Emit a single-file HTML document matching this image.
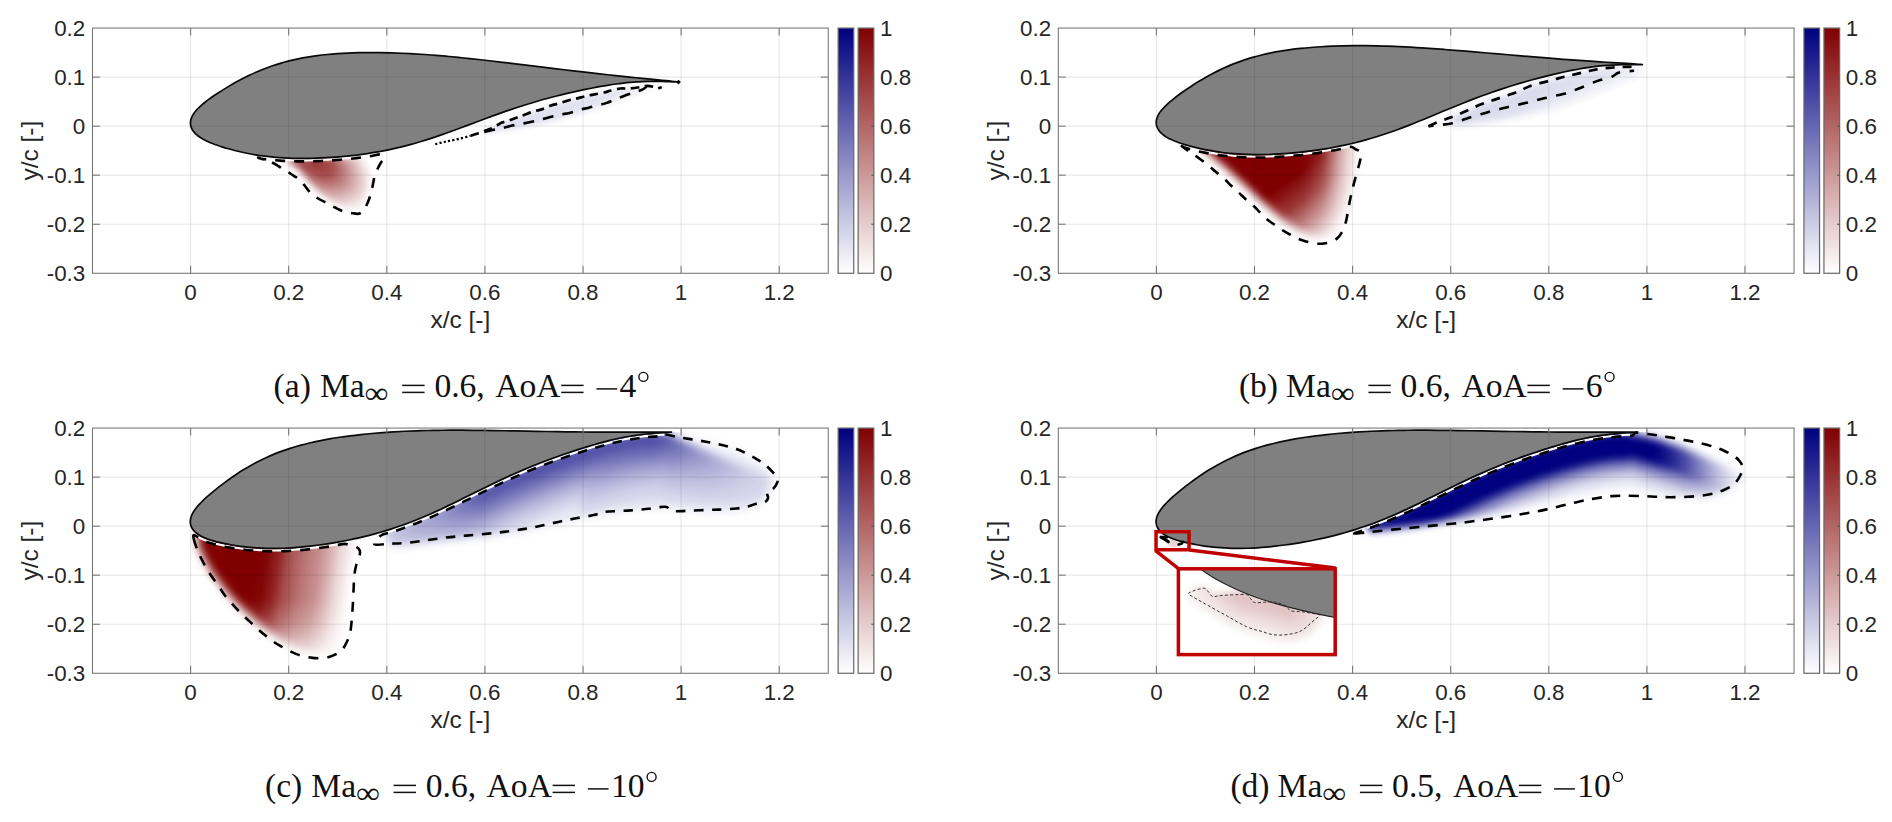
<!DOCTYPE html>
<html><head><meta charset="utf-8"><title>figure</title>
<style>html,body{margin:0;padding:0;background:#fff}svg{display:block}</style>
</head><body>
<svg width="1892" height="822" viewBox="0 0 1892 822">
<defs>
<linearGradient id="cbB" x1="0" y1="1" x2="0" y2="0"><stop offset="0" stop-color="#fff"/><stop offset="1" stop-color="#000080"/></linearGradient>
<linearGradient id="cbR" x1="0" y1="1" x2="0" y2="0"><stop offset="0" stop-color="#fff"/><stop offset="1" stop-color="#800000"/></linearGradient>
<radialGradient id="rg1" gradientUnits="userSpaceOnUse" cx="315" cy="160" r="62" gradientTransform="translate(315 160) rotate(38) scale(1.15 0.66) translate(-315 -160)"><stop offset="0" stop-color="#800000" stop-opacity="0.8"/><stop offset="0.3" stop-color="#800000" stop-opacity="0.68"/><stop offset="0.6" stop-color="#800000" stop-opacity="0.36"/><stop offset="0.85" stop-color="#800000" stop-opacity="0.1"/><stop offset="1" stop-color="#800000" stop-opacity="0"/></radialGradient>
<filter id="bl3" x="-30%" y="-30%" width="160%" height="160%"><feGaussianBlur stdDeviation="3"/></filter>
<mask id="mk2" maskUnits="userSpaceOnUse" x="240" y="140" width="180" height="100"><path d="M286 160C286 162.5 295 167 300 172C305 177 310.33 184.67 316 190C321.67 195.33 328 200.33 334 204C340 207.67 347.33 211 352 212C356.67 213 359.33 212.67 362 210C364.67 207.33 366.33 201.67 368 196C369.67 190.33 370.33 182.33 372 176C373.67 169.67 383.33 161 378 158C372.67 155 353 158.17 340 158C327 157.83 309 156.67 300 157C291 157.33 286 157.5 286 160Z" fill="#fff" filter="url(#bl3)"/></mask>
<linearGradient id="lg4" gradientUnits="userSpaceOnUse" x1="560" y1="100" x2="572" y2="128"><stop offset="0" stop-color="#000080" stop-opacity="0.13"/><stop offset="0.5" stop-color="#000080" stop-opacity="0.11"/><stop offset="1" stop-color="#000080" stop-opacity="0"/></linearGradient>
<filter id="bl6" x="-30%" y="-30%" width="160%" height="160%"><feGaussianBlur stdDeviation="2.5"/></filter>
<mask id="mk5" maskUnits="userSpaceOnUse" x="420" y="70" width="280" height="90"><path d="M484.3 131.1L493.6 127.3L502 122.6L509.6 120.3L518.1 117.1L524 115L534.2 111.2L541.8 109.4L551.1 105.5L558.7 103.5L568.8 100.2L576.4 98.6L585.7 96.1L593.3 94.6L604.3 92.5L610.2 90.8L620.3 88.5L628.8 88.6L639.8 87.2L646.6 85.9L653.3 86.8L656.7 88.4L661.8 87.2L670 90L640 97L600 110L560 120L520 128L490 133Z" fill="#fff" filter="url(#bl6)"/></mask>
<linearGradient id="lg7" gradientUnits="userSpaceOnUse" x1="1250" y1="150" x2="1322" y2="248"><stop offset="0" stop-color="#800000" stop-opacity="1"/><stop offset="0.39" stop-color="#800000" stop-opacity="1"/><stop offset="0.59" stop-color="#800000" stop-opacity="0.78"/><stop offset="0.77" stop-color="#800000" stop-opacity="0.45"/><stop offset="0.91" stop-color="#800000" stop-opacity="0.18"/><stop offset="1" stop-color="#800000" stop-opacity="0.05"/></linearGradient>
<linearGradient id="lg8" gradientUnits="userSpaceOnUse" x1="1303.5" y1="0" x2="1359.5" y2="0"><stop offset="0" stop-color="#fff" stop-opacity="1"/><stop offset="0.35" stop-color="#fff" stop-opacity="0.85"/><stop offset="0.7" stop-color="#fff" stop-opacity="0.3"/><stop offset="1" stop-color="#fff" stop-opacity="0"/></linearGradient>
<filter id="bl10" x="-30%" y="-30%" width="160%" height="160%"><feGaussianBlur stdDeviation="4"/></filter>
<mask id="mk9" maskUnits="userSpaceOnUse" x="1150" y="120" width="260" height="160"><g filter="url(#bl10)"><path d="M1202 144C1197.17 145.83 1206.83 150.92 1211 155C1215.17 159.08 1221.33 163.5 1227 168.5C1232.67 173.5 1239 179.42 1245 185C1251 190.58 1257.33 196.75 1263 202C1268.67 207.25 1273.5 212.08 1279 216.5C1284.5 220.92 1290.17 225.08 1296 228.5C1301.83 231.92 1308.33 235.5 1314 237C1319.67 238.5 1325.67 238.83 1330 237.5C1334.33 236.17 1337.17 233.58 1340 229C1342.83 224.42 1345 217.17 1347 210C1349 202.83 1350.17 194.33 1352 186C1353.83 177.67 1357 167 1358 160C1359 153 1367.67 146.67 1358 144C1348.33 141.33 1319.67 144 1300 144C1280.33 144 1256.33 144 1240 144C1223.67 144 1206.83 142.17 1202 144Z" fill="url(#lg8)"/></g></mask>
<linearGradient id="lg11" gradientUnits="userSpaceOnUse" x1="1540" y1="82" x2="1556" y2="118"><stop offset="0" stop-color="#000080" stop-opacity="0.16"/><stop offset="0.45" stop-color="#000080" stop-opacity="0.12"/><stop offset="1" stop-color="#000080" stop-opacity="0"/></linearGradient>
<filter id="bl13" x="-30%" y="-30%" width="160%" height="160%"><feGaussianBlur stdDeviation="3.5"/></filter>
<mask id="mk12" maskUnits="userSpaceOnUse" x="1400" y="50" width="290" height="110"><path d="M1447.5 118.6L1455 115.8L1463.3 112.3L1471 108.9L1479.1 105.1L1487 102.2L1494.9 99.6L1504 96.5L1513.9 93.3L1522 89.7L1529.7 86.2L1538 83.7L1547.1 81.4L1556 79L1564.5 76.7L1573 74.7L1581.9 72.7L1590 70.8L1599.3 68.8L1609 67.9L1618.3 67.2L1626 66.9L1634.1 66.7L1646 70L1640 84L1610 96L1570 108L1530 116L1490 122L1455 126Z" fill="#fff" filter="url(#bl13)"/></mask>
<linearGradient id="lg14" gradientUnits="userSpaceOnUse" x1="258" y1="545" x2="358" y2="560"><stop offset="0" stop-color="#800000" stop-opacity="1"/><stop offset="0.1" stop-color="#800000" stop-opacity="0.98"/><stop offset="0.22" stop-color="#800000" stop-opacity="0.86"/><stop offset="0.31" stop-color="#800000" stop-opacity="0.71"/><stop offset="0.46" stop-color="#800000" stop-opacity="0.56"/><stop offset="0.62" stop-color="#800000" stop-opacity="0.44"/><stop offset="0.72" stop-color="#800000" stop-opacity="0.31"/><stop offset="0.82" stop-color="#800000" stop-opacity="0.16"/><stop offset="0.92" stop-color="#800000" stop-opacity="0.05"/><stop offset="1" stop-color="#800000" stop-opacity="0"/></linearGradient>
<linearGradient id="lg15" gradientUnits="userSpaceOnUse" x1="0" y1="600" x2="0" y2="662"><stop offset="0" stop-color="#fff" stop-opacity="1"/><stop offset="0.4" stop-color="#fff" stop-opacity="0.8"/><stop offset="0.75" stop-color="#fff" stop-opacity="0.42"/><stop offset="1" stop-color="#fff" stop-opacity="0.2"/></linearGradient>
<filter id="bl17" x="-30%" y="-30%" width="160%" height="160%"><feGaussianBlur stdDeviation="4.8"/></filter>
<mask id="mk16" maskUnits="userSpaceOnUse" x="160" y="500" width="240" height="180"><g filter="url(#bl17)"><path d="M204 524C198.67 528.33 198.33 536.17 198 541C197.67 545.83 200 548.42 202 553C204 557.58 206.83 563.33 210 568.5C213.17 573.67 217 578.83 221 584C225 589.17 229.33 594.42 234 599.5C238.67 604.58 243.83 609.75 249 614.5C254.17 619.25 259.58 623.75 265 628C270.42 632.25 276 636.67 281.5 640C287 643.33 292.58 646 298 648C303.42 650 308.67 651.42 314 652C319.33 652.58 325.17 652.67 330 651.5C334.83 650.33 339.5 648.75 343 645C346.5 641.25 349.17 636.5 351 629C352.83 621.5 353.17 609.5 354 600C354.83 590.5 354.83 580 356 572C357.17 564 360.17 560.67 361 552C361.83 543.33 374.5 526.17 361 520C347.5 513.83 301.83 515.83 280 515C258.17 514.17 242.67 513.5 230 515C217.33 516.5 209.33 519.67 204 524Z" fill="url(#lg15)"/></g></mask>
<linearGradient id="lg18" gradientUnits="userSpaceOnUse" x1="376" y1="0" x2="800" y2="0"><stop offset="0" stop-color="#fff" stop-opacity="0.12"/><stop offset="0.03" stop-color="#fff" stop-opacity="0.3"/><stop offset="0.16" stop-color="#fff" stop-opacity="0.6"/><stop offset="0.25" stop-color="#fff" stop-opacity="0.95"/><stop offset="0.4" stop-color="#fff" stop-opacity="1"/><stop offset="0.66" stop-color="#fff" stop-opacity="1"/><stop offset="0.69" stop-color="#fff" stop-opacity="0.9"/><stop offset="0.72" stop-color="#fff" stop-opacity="0.7"/><stop offset="0.76" stop-color="#fff" stop-opacity="0.52"/><stop offset="0.82" stop-color="#fff" stop-opacity="0.32"/><stop offset="0.87" stop-color="#fff" stop-opacity="0.19"/><stop offset="0.93" stop-color="#fff" stop-opacity="0.11"/><stop offset="1" stop-color="#fff" stop-opacity="0.04"/></linearGradient>
<filter id="bl20" x="-30%" y="-30%" width="160%" height="160%"><feGaussianBlur stdDeviation="4"/></filter>
<mask id="mk19" maskUnits="userSpaceOnUse" x="330" y="400" width="500" height="180"><g filter="url(#bl20)"><path d="M368 547L406 546L446 541L488 537L525 532L560 525L594 518L630 513.5L665 510L710 513L740 511.5L762 505L780 484L772 478L746 468L721.7 458L697.3 447L683 440.5L669.07 433.77L654.81 431.25L642.72 432.4L630.59 434.1L618.45 436.42L606.34 439.27L594.24 442.52L582.15 446.15L570.06 450.03L557.98 454.18L545.9 458.6L533.82 463.28L521.74 468.28L509.65 473.61L497.58 479.2L485.51 485.02L473.46 490.98L461.42 496.98L449.39 502.87L437.38 508.54L425.38 513.89L413.39 518.85L401.41 523.38L389.44 527.44L377.43 531.02Z" fill="url(#lg18)"/></g></mask>
<filter id="bl21" x="-30%" y="-30%" width="160%" height="160%"><feGaussianBlur stdDeviation="3.5"/></filter>
<filter id="bl22" x="-30%" y="-30%" width="160%" height="160%"><feGaussianBlur stdDeviation="6"/></filter>
<linearGradient id="lg23" gradientUnits="userSpaceOnUse" x1="1350" y1="0" x2="1750" y2="0"><stop offset="0" stop-color="#fff" stop-opacity="0.7"/><stop offset="0.04" stop-color="#fff" stop-opacity="1"/><stop offset="0.76" stop-color="#fff" stop-opacity="1"/><stop offset="0.79" stop-color="#fff" stop-opacity="0.92"/><stop offset="0.83" stop-color="#fff" stop-opacity="0.75"/><stop offset="0.86" stop-color="#fff" stop-opacity="0.58"/><stop offset="0.89" stop-color="#fff" stop-opacity="0.4"/><stop offset="0.92" stop-color="#fff" stop-opacity="0.25"/><stop offset="0.95" stop-color="#fff" stop-opacity="0.12"/><stop offset="0.98" stop-color="#fff" stop-opacity="0.04"/><stop offset="1" stop-color="#fff" stop-opacity="0"/></linearGradient>
<filter id="bl25" x="-30%" y="-30%" width="160%" height="160%"><feGaussianBlur stdDeviation="4.5"/></filter>
<mask id="mk24" maskUnits="userSpaceOnUse" x="1300" y="400" width="500" height="180"><g filter="url(#bl25)"><path d="M1356 532.5L1380 530L1420 525.5L1460 520.5L1500 514L1540 506L1580 499.5L1612 497L1645 498.5L1672 500L1706 498L1730 490L1748 478L1750 478L1730 468.5L1706 458L1682 447.5L1657 439L1634.07 433.83L1619.81 431.32L1608.46 432.4L1597.07 433.99L1585.68 436.12L1574.3 438.71L1562.94 441.72L1551.59 445.02L1540.25 448.6L1528.91 452.39L1517.57 456.41L1506.23 460.68L1494.89 465.21L1483.55 470.02L1472.21 475.08L1460.88 480.39L1449.55 485.88L1438.24 491.49L1426.94 497.11L1415.65 502.65L1404.38 507.99L1393.12 513.06L1381.86 517.78L1370.61 522.12L1359.34 526.07Z" fill="url(#lg23)"/></g></mask>
<filter id="bl26" x="-30%" y="-30%" width="160%" height="160%"><feGaussianBlur stdDeviation="2.6"/></filter>
<radialGradient id="rg27" gradientUnits="userSpaceOnUse" cx="1173.5" cy="542.8" r="8"><stop offset="0" stop-color="#800000" stop-opacity="0.2"/><stop offset="0.6" stop-color="#800000" stop-opacity="0.12"/><stop offset="1" stop-color="#800000" stop-opacity="0"/></radialGradient>
<clipPath id="insclip"><rect x="1178.4" y="568.8" width="156.8" height="85.8"/></clipPath>
<linearGradient id="lg28" gradientUnits="userSpaceOnUse" x1="1250" y1="596" x2="1238" y2="640"><stop offset="0" stop-color="#800000" stop-opacity="0.26"/><stop offset="0.25" stop-color="#800000" stop-opacity="0.2"/><stop offset="0.5" stop-color="#800000" stop-opacity="0.12"/><stop offset="0.8" stop-color="#800000" stop-opacity="0.04"/><stop offset="1" stop-color="#800000" stop-opacity="0"/></linearGradient>
<linearGradient id="lg29" gradientUnits="userSpaceOnUse" x1="1186" y1="0" x2="1325" y2="0"><stop offset="0" stop-color="#fff" stop-opacity="0.25"/><stop offset="0.15" stop-color="#fff" stop-opacity="0.55"/><stop offset="0.35" stop-color="#fff" stop-opacity="1"/><stop offset="0.75" stop-color="#fff" stop-opacity="1"/><stop offset="0.9" stop-color="#fff" stop-opacity="0.6"/><stop offset="1" stop-color="#fff" stop-opacity="0.3"/></linearGradient>
<filter id="bl31" x="-30%" y="-30%" width="160%" height="160%"><feGaussianBlur stdDeviation="3"/></filter>
<mask id="mk30" maskUnits="userSpaceOnUse" x="1170" y="560" width="180" height="110"><g filter="url(#bl31)"><path d="M1186 592L1196 586.5L1206 586L1213 593L1247 591.5L1255 599L1275 598.5L1288 603L1292 608L1322 612.5L1322 622L1310 636L1292 645L1270 645L1248 638L1226 626L1204 612L1190 602Z" fill="url(#lg29)"/></g></mask>
<clipPath id="clipa"><rect x="92.5" y="28.07" width="735.75" height="245.2"/></clipPath>
<clipPath id="clipb"><rect x="1058.3" y="28.07" width="735.75" height="245.2"/></clipPath>
<clipPath id="clipc"><rect x="92.5" y="428.07" width="735.75" height="245.2"/></clipPath>
<clipPath id="clipd"><rect x="1058.3" y="428.07" width="735.75" height="245.2"/></clipPath>
</defs>
<rect width="1892" height="822" fill="#fff"/>
<g clip-path="url(#clipa)">
<rect x="240" y="140" width="180" height="100" fill="url(#rg1)" mask="url(#mk2)"/>
<rect x="420" y="70" width="280" height="90" fill="url(#lg4)" mask="url(#mk5)"/>
<path d="M261.75 157.75C262.45 157.84 264.56 158.11 265.97 158.28C267.38 158.45 268.8 158.62 270.21 158.76C271.62 158.91 273.03 159.03 274.45 159.15C275.86 159.28 277.27 159.41 278.68 159.51C280.09 159.61 281.51 159.69 282.92 159.77C284.33 159.85 285.74 159.94 287.15 160.01C288.56 160.07 289.97 160.11 291.38 160.16C292.8 160.2 294.2 160.24 295.61 160.27C297.02 160.3 298.44 160.32 299.85 160.33C301.26 160.34 302.66 160.34 304.07 160.34C305.48 160.34 306.89 160.33 308.3 160.31C309.71 160.29 311.12 160.26 312.53 160.22C313.94 160.19 315.35 160.17 316.76 160.13C318.17 160.08 319.57 160 320.98 159.94C322.39 159.88 323.8 159.83 325.21 159.76C326.62 159.69 328.03 159.59 329.44 159.51C330.84 159.42 332.25 159.33 333.66 159.23C335.06 159.13 336.48 159.03 337.88 158.92C339.29 158.81 340.7 158.68 342.1 158.55C343.51 158.43 344.92 158.32 346.33 158.18C347.74 158.05 349.15 157.88 350.56 157.72C351.97 157.57 353.37 157.42 354.78 157.26C356.19 157.09 357.61 156.92 359.02 156.74C360.42 156.55 361.83 156.36 363.23 156.16C364.64 155.97 366.06 155.8 367.47 155.59C368.88 155.38 370.29 155.13 371.7 154.9C373.11 154.67 374.51 154.45 375.92 154.21C377.33 153.97 378.75 153.72 380.16 153.46C381.57 153.2 383.68 152.78 384.38 152.65" fill="none" stroke="#fff" stroke-width="2.2"/>
<path d="M190.5 124.07C190.43 123.23 190.44 122.38 190.54 121.52C190.63 120.67 190.81 119.81 191.08 118.95C191.34 118.08 191.69 117.21 192.12 116.33C192.56 115.45 193.07 114.57 193.67 113.68C194.27 112.79 194.95 111.89 195.71 110.98C196.48 110.08 197.32 109.16 198.25 108.23C199.18 107.3 200.18 106.36 201.27 105.4C202.35 104.44 203.52 103.47 204.76 102.48C206.01 101.48 207.33 100.47 208.72 99.44C210.12 98.41 211.59 97.35 213.14 96.28C214.69 95.21 216.31 94.11 218.01 93C219.7 91.88 221.47 90.74 223.31 89.6C225.15 88.45 227.06 87.28 229.04 86.11C231.02 84.94 233.07 83.75 235.18 82.57C237.3 81.39 239.49 80.2 241.74 79.03C243.99 77.86 246.31 76.69 248.7 75.54C251.08 74.4 253.53 73.27 256.04 72.17C258.55 71.08 261.13 70 263.77 68.98C266.4 67.95 269.1 66.95 271.86 66C274.62 65.06 277.43 64.15 280.31 63.31C283.18 62.46 286.11 61.65 289.09 60.91C292.07 60.16 295.11 59.47 298.2 58.83C301.28 58.19 304.42 57.61 307.61 57.07C310.79 56.54 314.02 56.07 317.3 55.64C320.57 55.21 323.89 54.84 327.25 54.51C330.6 54.17 334 53.89 337.44 53.65C340.87 53.41 344.34 53.22 347.84 53.06C351.34 52.9 354.87 52.79 358.43 52.7C361.99 52.62 365.58 52.57 369.2 52.56C372.81 52.54 376.45 52.56 380.1 52.61C383.75 52.66 387.43 52.74 391.12 52.85C394.81 52.95 398.52 53.09 402.24 53.25C405.96 53.41 409.7 53.6 413.43 53.81C417.17 54.02 420.92 54.26 424.67 54.52C428.42 54.78 432.18 55.06 435.93 55.36C439.69 55.66 443.44 55.99 447.19 56.33C450.94 56.67 454.69 57.03 458.43 57.4C462.16 57.77 465.9 58.16 469.61 58.55C473.33 58.95 477.04 59.36 480.72 59.77C484.41 60.18 488.08 60.61 491.73 61.03C495.38 61.46 499.01 61.89 502.62 62.32C506.22 62.75 509.8 63.18 513.35 63.61C516.9 64.04 520.43 64.47 523.92 64.9C527.41 65.32 530.87 65.75 534.29 66.16C537.71 66.58 541.1 66.99 544.44 67.4C547.79 67.8 551.1 68.2 554.36 68.59C557.62 68.99 560.85 69.37 564.02 69.75C567.19 70.13 570.33 70.5 573.4 70.86C576.48 71.22 579.51 71.57 582.49 71.92C585.46 72.26 588.39 72.6 591.25 72.93C594.12 73.26 596.93 73.58 599.68 73.88C602.43 74.19 605.13 74.49 607.76 74.78C610.39 75.07 612.97 75.35 615.47 75.62C617.98 75.89 620.42 76.15 622.79 76.4C625.17 76.64 627.48 76.88 629.72 77.11C631.96 77.34 634.13 77.55 636.23 77.76C638.32 77.97 640.35 78.17 642.31 78.36C644.26 78.55 646.14 78.73 647.95 78.9C649.75 79.07 651.49 79.24 653.14 79.39C654.79 79.55 656.37 79.7 657.87 79.84C659.37 79.99 660.79 80.12 662.13 80.25C663.47 80.39 664.73 80.51 665.91 80.63C667.08 80.75 668.18 80.86 669.2 80.97C670.21 81.07 671.15 81.17 672 81.26C672.84 81.36 673.61 81.44 674.29 81.52C674.98 81.59 675.57 81.66 676.09 81.72C676.6 81.78 677.03 81.83 677.37 81.88C677.71 81.92 677.97 81.95 678.14 81.97C678.31 81.99 678.36 81.99 678.4 82C678.36 82 678.31 82 678.14 81.99C677.97 81.99 677.72 81.99 677.38 81.98C677.04 81.97 676.62 81.96 676.11 81.95C675.6 81.93 675 81.91 674.33 81.89C673.65 81.87 672.89 81.84 672.04 81.81C671.2 81.78 670.27 81.75 669.26 81.71C668.25 81.67 667.16 81.63 665.99 81.59C664.82 81.55 663.56 81.51 662.23 81.47C660.9 81.44 659.49 81.4 658 81.37C656.51 81.35 654.95 81.33 653.31 81.33C651.67 81.33 649.95 81.34 648.16 81.37C646.37 81.41 644.51 81.46 642.58 81.54C640.65 81.62 638.65 81.72 636.58 81.86C634.51 81.99 632.37 82.16 630.17 82.36C627.97 82.56 625.7 82.79 623.37 83.06C621.04 83.33 618.64 83.64 616.19 83.98C613.74 84.32 611.22 84.69 608.65 85.1C606.08 85.51 603.45 85.95 600.77 86.43C598.08 86.9 595.34 87.41 592.55 87.96C589.76 88.5 586.91 89.07 584.02 89.67C581.12 90.28 578.18 90.91 575.19 91.58C572.2 92.25 569.16 92.95 566.09 93.68C563.01 94.41 559.88 95.17 556.72 95.98C553.56 96.78 550.36 97.61 547.13 98.49C543.89 99.36 540.62 100.27 537.31 101.23C534.01 102.18 530.67 103.18 527.31 104.21C523.94 105.25 520.55 106.33 517.13 107.44C513.72 108.56 510.27 109.72 506.81 110.92C503.34 112.11 499.86 113.35 496.35 114.61C492.85 115.87 489.32 117.17 485.78 118.47C482.25 119.78 478.69 121.12 475.12 122.46C471.56 123.8 467.98 125.16 464.39 126.49C460.8 127.83 457.2 129.18 453.59 130.49C449.98 131.81 446.37 133.12 442.75 134.38C439.13 135.64 435.5 136.88 431.88 138.07C428.25 139.26 424.62 140.41 421 141.5C417.37 142.59 413.74 143.64 410.12 144.62C406.5 145.6 402.89 146.53 399.28 147.4C395.67 148.26 392.07 149.07 388.48 149.82C384.9 150.57 381.32 151.25 377.76 151.88C374.2 152.52 370.66 153.09 367.14 153.62C363.62 154.14 360.11 154.61 356.64 155.04C353.16 155.47 349.7 155.84 346.28 156.18C342.86 156.52 339.46 156.81 336.09 157.07C332.73 157.32 329.4 157.54 326.1 157.72C322.81 157.9 319.54 158.04 316.32 158.14C313.1 158.25 309.92 158.32 306.78 158.35C303.64 158.38 300.54 158.37 297.49 158.32C294.44 158.28 291.44 158.2 288.48 158.08C285.52 157.95 282.61 157.79 279.76 157.59C276.9 157.4 274.1 157.16 271.35 156.88C268.6 156.61 265.9 156.3 263.27 155.95C260.63 155.61 258.05 155.22 255.53 154.82C253.02 154.41 250.56 153.96 248.16 153.5C245.77 153.04 243.44 152.55 241.18 152.04C238.91 151.53 236.71 151 234.59 150.46C232.46 149.92 230.4 149.37 228.41 148.8C226.43 148.24 224.51 147.66 222.67 147.08C220.83 146.5 219.06 145.91 217.37 145.31C215.68 144.72 214.06 144.12 212.53 143.51C210.99 142.9 209.53 142.28 208.14 141.66C206.76 141.03 205.46 140.4 204.23 139.76C203.01 139.11 201.86 138.46 200.8 137.79C199.74 137.12 198.75 136.43 197.85 135.73C196.95 135.03 196.13 134.32 195.39 133.58C194.65 132.85 193.99 132.1 193.42 131.33C192.84 130.57 192.35 129.79 191.94 128.99C191.54 128.19 191.21 127.38 190.97 126.56C190.73 125.74 190.57 124.91 190.5 124.07Z" fill="#808080" stroke="#0a0a0a" stroke-width="1.7" stroke-linejoin="round"/>
<g stroke="#000" stroke-opacity="0.085" stroke-width="1.2"><line x1="190.6" y1="28.07" x2="190.6" y2="273.27"/><line x1="288.7" y1="28.07" x2="288.7" y2="273.27"/><line x1="386.8" y1="28.07" x2="386.8" y2="273.27"/><line x1="484.9" y1="28.07" x2="484.9" y2="273.27"/><line x1="583" y1="28.07" x2="583" y2="273.27"/><line x1="681.1" y1="28.07" x2="681.1" y2="273.27"/><line x1="779.2" y1="28.07" x2="779.2" y2="273.27"/><line x1="92.5" y1="77.11" x2="828.25" y2="77.11"/><line x1="92.5" y1="126.15" x2="828.25" y2="126.15"/><line x1="92.5" y1="175.19" x2="828.25" y2="175.19"/><line x1="92.5" y1="224.23" x2="828.25" y2="224.23"/></g>
<path d="M258.1 157.6C258.16 157.63 260.45 158.4 262 158.9C263.55 159.4 265.23 159.75 267.4 160.6C269.57 161.45 272.27 162.5 275 164C277.73 165.5 281.13 167.93 283.8 169.6C286.47 171.27 288.45 172.37 291 174C293.55 175.63 296.77 177.4 299.1 179.4C301.43 181.4 302.98 183.62 305 186C307.02 188.38 308.87 191.53 311.2 193.7C313.53 195.87 316.27 197.37 319 199C321.73 200.63 324.93 202.08 327.6 203.5C330.27 204.92 332.45 206.22 335 207.5C337.55 208.78 340.23 210.28 342.9 211.2C345.57 212.12 348.27 212.6 351 213C353.73 213.4 357 214.37 359.3 213.6C361.6 212.83 363.1 211 364.8 208.4C366.5 205.8 368.27 201.4 369.5 198C370.73 194.6 371.43 191.28 372.2 188C372.97 184.72 373.47 180.88 374.1 178.3C374.73 175.72 375.27 174.38 376 172.5C376.73 170.62 377.67 168.67 378.5 167C379.33 165.33 380.15 163.97 381 162.5C381.85 161.03 383.68 159.55 383.6 158.2C383.52 156.85 382.54 154.78 380.5 154.41C378.47 154.04 374.44 155.48 371.39 155.96C368.35 156.45 365.3 156.89 362.25 157.31C359.2 157.72 356.16 158.1 353.11 158.45C350.06 158.79 347.02 159.11 343.97 159.39C340.93 159.68 337.88 159.93 334.84 160.16C331.79 160.38 328.74 160.58 325.7 160.74C322.65 160.9 319.61 161.04 316.56 161.14C313.51 161.23 310.46 161.3 307.42 161.33C304.37 161.36 301.32 161.37 298.27 161.33C295.22 161.29 292.17 161.21 289.11 161.09C286.06 160.97 283.01 160.82 279.95 160.61C276.89 160.4 273.82 160.15 270.77 159.84C267.72 159.53 263.76 159.12 261.64 158.74C259.53 158.37 258.04 157.57 258.1 157.6Z" fill="none" stroke="#000" stroke-width="2.6" stroke-dasharray="10 9" stroke-dashoffset="4" stroke-linecap="butt" stroke-linejoin="round"/>
<path d="M435.2 144.2C436.9 143.78 441.58 142.55 445.4 141.7C449.22 140.85 453.88 140.1 458.1 139.1C462.32 138.1 468.6 136.27 470.7 135.7" fill="none" stroke="#000" stroke-width="2.2" stroke-dasharray="2.2 2.2" stroke-dashoffset="0" stroke-linecap="butt" stroke-linejoin="round"/>
<path d="M470.7 135.7C472.97 134.93 480.48 132.5 484.3 131.1C488.12 129.7 490.65 128.72 493.6 127.3C496.55 125.88 499.33 123.77 502 122.6C504.67 121.43 506.92 121.22 509.6 120.3C512.28 119.38 515.7 117.98 518.1 117.1C520.5 116.22 521.32 115.98 524 115C526.68 114.02 531.23 112.13 534.2 111.2C537.17 110.27 538.98 110.35 541.8 109.4C544.62 108.45 548.28 106.48 551.1 105.5C553.92 104.52 555.75 104.38 558.7 103.5C561.65 102.62 565.85 101.02 568.8 100.2C571.75 99.38 573.58 99.28 576.4 98.6C579.22 97.92 582.88 96.77 585.7 96.1C588.52 95.43 590.2 95.2 593.3 94.6C596.4 94 601.48 93.13 604.3 92.5C607.12 91.87 607.53 91.47 610.2 90.8C612.87 90.13 617.2 88.87 620.3 88.5C623.4 88.13 625.55 88.82 628.8 88.6C632.05 88.38 636.83 87.65 639.8 87.2C642.77 86.75 644.35 85.97 646.6 85.9C648.85 85.83 651.62 86.38 653.3 86.8C654.98 87.22 655.28 88.33 656.7 88.4C658.12 88.47 660.95 87.4 661.8 87.2" fill="none" stroke="#000" stroke-width="2.7" stroke-dasharray="8.5 5.5" stroke-dashoffset="0" stroke-linecap="butt" stroke-linejoin="round"/>
<path d="M484.3 131.9C485.85 131.55 490.37 130.5 493.6 129.8C496.83 129.1 500.6 128.4 503.7 127.7C506.8 127 509.1 126.27 512.2 125.6C515.3 124.93 519.07 124.33 522.3 123.7C525.53 123.07 528.35 122.55 531.6 121.8C534.85 121.05 538.7 119.98 541.8 119.2C544.9 118.42 547.1 117.87 550.2 117.1C553.3 116.33 557.15 115.3 560.4 114.6C563.65 113.9 566.33 113.75 569.7 112.9C573.07 112.05 577.52 110.33 580.6 109.5C583.68 108.67 585.1 108.65 588.2 107.9C591.3 107.15 596.1 105.83 599.2 105C602.3 104.17 603.83 103.97 606.8 102.9C609.77 101.83 614.03 99.8 617 98.6C619.97 97.4 621.65 96.75 624.6 95.7C627.55 94.65 631.75 93.3 634.7 92.3C637.65 91.3 640.32 90.67 642.3 89.7C644.28 88.73 645.88 87.03 646.6 86.5" fill="none" stroke="#000" stroke-width="2.6" stroke-dasharray="11 9" stroke-dashoffset="0" stroke-linecap="butt" stroke-linejoin="round"/>
<path d="M676.2 82.1L678.5 79.8L680.8 82.1L678.5 84.4Z" fill="#000"/>
</g>
<g stroke="#737373" stroke-width="1.05" fill="none"><rect x="92.5" y="28.07" width="735.75" height="245.2"/><line x1="190.6" y1="273.27" x2="190.6" y2="265.87"/><line x1="190.6" y1="28.07" x2="190.6" y2="35.47"/><line x1="288.7" y1="273.27" x2="288.7" y2="265.87"/><line x1="288.7" y1="28.07" x2="288.7" y2="35.47"/><line x1="386.8" y1="273.27" x2="386.8" y2="265.87"/><line x1="386.8" y1="28.07" x2="386.8" y2="35.47"/><line x1="484.9" y1="273.27" x2="484.9" y2="265.87"/><line x1="484.9" y1="28.07" x2="484.9" y2="35.47"/><line x1="583" y1="273.27" x2="583" y2="265.87"/><line x1="583" y1="28.07" x2="583" y2="35.47"/><line x1="681.1" y1="273.27" x2="681.1" y2="265.87"/><line x1="681.1" y1="28.07" x2="681.1" y2="35.47"/><line x1="779.2" y1="273.27" x2="779.2" y2="265.87"/><line x1="779.2" y1="28.07" x2="779.2" y2="35.47"/><line x1="92.5" y1="77.11" x2="99.9" y2="77.11"/><line x1="828.25" y1="77.11" x2="820.85" y2="77.11"/><line x1="92.5" y1="126.15" x2="99.9" y2="126.15"/><line x1="828.25" y1="126.15" x2="820.85" y2="126.15"/><line x1="92.5" y1="175.19" x2="99.9" y2="175.19"/><line x1="828.25" y1="175.19" x2="820.85" y2="175.19"/><line x1="92.5" y1="224.23" x2="99.9" y2="224.23"/><line x1="828.25" y1="224.23" x2="820.85" y2="224.23"/></g>
<g font-family="Liberation Sans, sans-serif" font-size="22.4" fill="#262626"><text x="190.6" y="299.67" text-anchor="middle">0</text><text x="288.7" y="299.67" text-anchor="middle">0.2</text><text x="386.8" y="299.67" text-anchor="middle">0.4</text><text x="484.9" y="299.67" text-anchor="middle">0.6</text><text x="583" y="299.67" text-anchor="middle">0.8</text><text x="681.1" y="299.67" text-anchor="middle">1</text><text x="779.2" y="299.67" text-anchor="middle">1.2</text><text x="85.3" y="35.77" text-anchor="end">0.2</text><text x="85.3" y="84.81" text-anchor="end">0.1</text><text x="85.3" y="133.85" text-anchor="end">0</text><text x="85.3" y="182.89" text-anchor="end">-0.1</text><text x="85.3" y="231.93" text-anchor="end">-0.2</text><text x="85.3" y="280.97" text-anchor="end">-0.3</text></g><g font-family="Liberation Sans, sans-serif" font-size="24.5" fill="#262626"><text x="460.38" y="327.67" text-anchor="middle">x/c [-]</text><text transform="translate(38 150.67) rotate(-90)" text-anchor="middle">y/c [-]</text></g>
<rect x="838.15" y="28.07" width="15.6" height="245.2" fill="url(#cbB)" stroke="#666" stroke-width="1.2"/><rect x="858.15" y="28.07" width="15.7" height="245.2" fill="url(#cbR)" stroke="#666" stroke-width="1.2"/><g stroke="#555" stroke-width="1.2"><line x1="873.85" y1="224.23" x2="871.35" y2="224.23"/><line x1="873.85" y1="175.19" x2="871.35" y2="175.19"/><line x1="873.85" y1="126.15" x2="871.35" y2="126.15"/><line x1="873.85" y1="77.11" x2="871.35" y2="77.11"/></g><g font-family="Liberation Sans, sans-serif" font-size="22.4" fill="#262626"><text x="880.05" y="280.97">0</text><text x="880.05" y="231.93">0.2</text><text x="880.05" y="182.89">0.4</text><text x="880.05" y="133.85">0.6</text><text x="880.05" y="84.81">0.8</text><text x="880.05" y="35.77">1</text></g>
<g font-family="Liberation Serif, serif" font-size="33.6" fill="#111"><text x="273.6" y="397.3">(a)</text><text x="319.9" y="397.3">Ma</text><text transform="translate(364.6 402.5) scale(1.12 1)" font-size="30">∞</text><text x="434.4" y="397.3">0.6,</text><text x="495.2" y="397.3">AoA</text><text x="619.6" y="397.3">4</text></g><g stroke="#111" stroke-width="1.5" fill="none"><line x1="402.2" y1="385.4" x2="424.6" y2="385.4"/><line x1="402.2" y1="392.4" x2="424.6" y2="392.4"/><line x1="561.2" y1="385.4" x2="583.6" y2="385.4"/><line x1="561.2" y1="392.4" x2="583.6" y2="392.4"/><line x1="596.4" y1="388.9" x2="617.2" y2="388.9"/><circle cx="643.4" cy="376.9" r="4.5" stroke-width="1.4"/></g>
<g clip-path="url(#clipb)">
<rect x="1150" y="120" width="260" height="160" fill="url(#lg7)" mask="url(#mk9)"/>
<rect x="1400" y="50" width="290" height="110" fill="url(#lg11)" mask="url(#mk12)"/>
<path d="M1185.46 146.88C1186.44 147.15 1189.38 148.01 1191.35 148.52C1193.32 149.04 1195.3 149.53 1197.27 149.99C1199.24 150.45 1201.21 150.88 1203.18 151.29C1205.15 151.7 1207.12 152.08 1209.09 152.44C1211.06 152.8 1213.03 153.14 1215 153.44C1216.97 153.75 1218.95 154.03 1220.92 154.28C1222.89 154.54 1224.85 154.76 1226.82 154.97C1228.79 155.18 1230.76 155.37 1232.72 155.54C1234.69 155.71 1236.66 155.87 1238.63 155.99C1240.6 156.11 1242.57 156.2 1244.54 156.28C1246.51 156.36 1248.47 156.41 1250.44 156.45C1252.4 156.5 1254.37 156.54 1256.34 156.54C1258.3 156.55 1260.27 156.53 1262.24 156.49C1264.2 156.46 1266.16 156.41 1268.13 156.35C1270.09 156.3 1272.06 156.24 1274.02 156.15C1275.99 156.06 1277.95 155.94 1279.92 155.82C1281.88 155.69 1283.84 155.57 1285.8 155.43C1287.76 155.28 1289.73 155.13 1291.69 154.96C1293.65 154.79 1295.61 154.59 1297.58 154.4C1299.54 154.2 1301.5 154.02 1303.47 153.8C1305.43 153.57 1307.39 153.32 1309.36 153.07C1311.32 152.82 1313.28 152.57 1315.24 152.3C1317.2 152.03 1319.17 151.74 1321.13 151.44C1323.09 151.14 1325.05 150.82 1327.02 150.49C1328.98 150.16 1330.95 149.84 1332.91 149.48C1334.88 149.12 1336.84 148.72 1338.8 148.34C1340.76 147.95 1342.73 147.58 1344.7 147.16C1346.66 146.74 1348.63 146.26 1350.59 145.81C1352.55 145.35 1355.48 144.66 1356.46 144.43" fill="none" stroke="#fff" stroke-width="2.2"/>
<path d="M1156.3 124.07C1156.2 123.23 1156.18 122.38 1156.25 121.52C1156.31 120.67 1156.46 119.8 1156.69 118.93C1156.93 118.05 1157.25 117.17 1157.65 116.28C1158.05 115.39 1158.53 114.49 1159.1 113.57C1159.66 112.66 1160.31 111.74 1161.04 110.81C1161.77 109.87 1162.59 108.93 1163.48 107.96C1164.37 107 1165.34 106.03 1166.39 105.03C1167.44 104.03 1168.58 103.02 1169.78 101.98C1170.99 100.94 1172.27 99.89 1173.63 98.8C1174.99 97.72 1176.43 96.62 1177.93 95.49C1179.44 94.36 1181.02 93.21 1182.68 92.03C1184.33 90.86 1186.06 89.66 1187.85 88.45C1189.65 87.23 1191.52 86 1193.45 84.76C1195.39 83.51 1197.4 82.25 1199.47 81C1201.54 79.74 1203.69 78.48 1205.9 77.23C1208.1 75.98 1210.38 74.72 1212.72 73.49C1215.06 72.27 1217.47 71.05 1219.94 69.86C1222.41 68.68 1224.95 67.51 1227.55 66.39C1230.15 65.27 1232.81 64.18 1235.53 63.13C1238.25 62.09 1241.03 61.08 1243.87 60.13C1246.71 59.18 1249.61 58.27 1252.57 57.42C1255.52 56.57 1258.53 55.77 1261.59 55.02C1264.65 54.27 1267.77 53.57 1270.93 52.93C1274.1 52.28 1277.31 51.69 1280.57 51.15C1283.82 50.6 1287.13 50.11 1290.47 49.66C1293.81 49.21 1297.2 48.81 1300.62 48.44C1304.04 48.08 1307.51 47.76 1311 47.48C1314.49 47.2 1318.02 46.95 1321.57 46.74C1325.13 46.53 1328.71 46.36 1332.32 46.21C1335.93 46.07 1339.57 45.96 1343.22 45.88C1346.88 45.79 1350.56 45.74 1354.25 45.72C1357.94 45.69 1361.65 45.69 1365.37 45.72C1369.1 45.75 1372.83 45.8 1376.58 45.88C1380.32 45.96 1384.08 46.06 1387.83 46.19C1391.59 46.31 1395.36 46.46 1399.12 46.63C1402.88 46.8 1406.65 46.99 1410.41 47.19C1414.16 47.39 1417.92 47.62 1421.67 47.86C1425.42 48.09 1429.16 48.35 1432.89 48.61C1436.62 48.87 1440.34 49.15 1444.04 49.43C1447.73 49.71 1451.42 50.01 1455.08 50.3C1458.74 50.59 1462.39 50.9 1466.01 51.2C1469.62 51.5 1473.22 51.8 1476.78 52.11C1480.35 52.41 1483.88 52.71 1487.39 53.01C1490.89 53.31 1494.36 53.61 1497.8 53.9C1501.23 54.2 1504.63 54.49 1507.99 54.77C1511.35 55.06 1514.67 55.34 1517.94 55.62C1521.22 55.89 1524.45 56.16 1527.64 56.42C1530.82 56.69 1533.97 56.95 1537.05 57.2C1540.14 57.45 1543.18 57.7 1546.17 57.93C1549.15 58.17 1552.09 58.4 1554.97 58.63C1557.84 58.85 1560.67 59.07 1563.43 59.28C1566.19 59.49 1568.89 59.7 1571.53 59.89C1574.17 60.09 1576.75 60.27 1579.27 60.45C1581.78 60.63 1584.23 60.8 1586.61 60.97C1588.99 61.13 1591.31 61.28 1593.56 61.43C1595.8 61.58 1597.98 61.72 1600.08 61.85C1602.19 61.98 1604.22 62.11 1606.18 62.23C1608.14 62.35 1610.03 62.46 1611.84 62.57C1613.65 62.68 1615.39 62.78 1617.04 62.88C1618.7 62.97 1620.28 63.07 1621.79 63.16C1623.29 63.25 1624.71 63.33 1626.06 63.42C1627.4 63.5 1628.66 63.58 1629.85 63.65C1631.03 63.73 1632.13 63.8 1633.15 63.87C1634.17 63.94 1635.1 64.01 1635.96 64.07C1636.81 64.13 1637.58 64.19 1638.26 64.24C1638.95 64.29 1639.55 64.34 1640.06 64.38C1640.58 64.42 1641.01 64.46 1641.35 64.49C1641.69 64.52 1641.95 64.54 1642.12 64.56C1642.3 64.57 1642.34 64.57 1642.38 64.58C1642.34 64.58 1642.3 64.58 1642.13 64.58C1641.96 64.58 1641.7 64.59 1641.36 64.59C1641.02 64.6 1640.6 64.6 1640.09 64.61C1639.58 64.61 1638.99 64.61 1638.31 64.61C1637.63 64.62 1636.87 64.62 1636.02 64.62C1635.18 64.62 1634.25 64.62 1633.24 64.61C1632.23 64.61 1631.14 64.61 1629.96 64.61C1628.79 64.62 1627.54 64.62 1626.2 64.63C1624.87 64.64 1623.46 64.65 1621.97 64.68C1620.49 64.71 1618.92 64.75 1617.28 64.8C1615.64 64.86 1613.93 64.93 1612.14 65.03C1610.36 65.13 1608.5 65.25 1606.57 65.4C1604.64 65.55 1602.65 65.72 1600.58 65.93C1598.52 66.14 1596.39 66.38 1594.2 66.66C1592 66.94 1589.74 67.26 1587.43 67.61C1585.11 67.96 1582.72 68.35 1580.28 68.78C1577.85 69.2 1575.34 69.67 1572.79 70.17C1570.24 70.67 1567.62 71.21 1564.96 71.78C1562.29 72.35 1559.57 72.96 1556.8 73.6C1554.03 74.24 1551.2 74.91 1548.33 75.62C1545.47 76.33 1542.54 77.07 1539.58 77.84C1536.62 78.62 1533.61 79.42 1530.56 80.26C1527.51 81.11 1524.41 81.98 1521.28 82.9C1518.16 83.81 1514.98 84.76 1511.78 85.75C1508.58 86.74 1505.34 87.77 1502.07 88.84C1498.81 89.91 1495.51 91.02 1492.18 92.18C1488.86 93.34 1485.5 94.53 1482.13 95.77C1478.75 97.01 1475.35 98.3 1471.93 99.61C1468.52 100.93 1465.07 102.29 1461.62 103.68C1458.16 105.06 1454.68 106.48 1451.2 107.92C1447.71 109.35 1444.2 110.82 1440.69 112.28C1437.17 113.75 1433.64 115.23 1430.1 116.7C1426.56 118.16 1423.01 119.64 1419.45 121.08C1415.9 122.52 1412.33 123.96 1408.76 125.35C1405.19 126.74 1401.61 128.11 1398.03 129.43C1394.44 130.75 1390.86 132.03 1387.27 133.25C1383.69 134.47 1380.1 135.64 1376.52 136.75C1372.94 137.87 1369.35 138.92 1365.78 139.92C1362.21 140.91 1358.64 141.84 1355.08 142.72C1351.52 143.6 1347.97 144.41 1344.44 145.17C1340.91 145.93 1337.38 146.63 1333.88 147.28C1330.38 147.93 1326.9 148.53 1323.44 149.08C1319.98 149.63 1316.54 150.13 1313.13 150.59C1309.72 151.05 1306.33 151.46 1302.98 151.84C1299.63 152.22 1296.3 152.55 1293.02 152.85C1289.73 153.14 1286.48 153.4 1283.26 153.62C1280.05 153.84 1276.87 154.02 1273.73 154.17C1270.6 154.31 1267.5 154.41 1264.45 154.48C1261.4 154.54 1258.39 154.57 1255.43 154.55C1252.48 154.53 1249.56 154.48 1246.7 154.38C1243.84 154.28 1241.03 154.15 1238.27 153.97C1235.52 153.8 1232.81 153.58 1230.16 153.33C1227.52 153.08 1224.92 152.79 1222.39 152.47C1219.86 152.15 1217.39 151.8 1214.98 151.42C1212.57 151.04 1210.22 150.64 1207.94 150.21C1205.66 149.79 1203.45 149.33 1201.3 148.87C1199.16 148.41 1197.08 147.92 1195.07 147.43C1193.07 146.94 1191.13 146.43 1189.27 145.91C1187.41 145.4 1185.63 144.87 1183.91 144.34C1182.2 143.8 1180.57 143.26 1179.01 142.71C1177.45 142.15 1175.96 141.59 1174.56 141.02C1173.16 140.44 1171.83 139.86 1170.58 139.25C1169.34 138.65 1168.17 138.04 1167.08 137.41C1166 136.78 1164.99 136.13 1164.06 135.46C1163.14 134.79 1162.29 134.11 1161.52 133.4C1160.76 132.7 1160.08 131.97 1159.48 131.23C1158.88 130.48 1158.36 129.72 1157.92 128.94C1157.48 128.15 1157.13 127.35 1156.86 126.54C1156.59 125.73 1156.4 124.9 1156.3 124.07Z" fill="#808080" stroke="#0a0a0a" stroke-width="1.7" stroke-linejoin="round"/>
<g stroke="#000" stroke-opacity="0.085" stroke-width="1.2"><line x1="1156.4" y1="28.07" x2="1156.4" y2="273.27"/><line x1="1254.5" y1="28.07" x2="1254.5" y2="273.27"/><line x1="1352.6" y1="28.07" x2="1352.6" y2="273.27"/><line x1="1450.7" y1="28.07" x2="1450.7" y2="273.27"/><line x1="1548.8" y1="28.07" x2="1548.8" y2="273.27"/><line x1="1646.9" y1="28.07" x2="1646.9" y2="273.27"/><line x1="1745" y1="28.07" x2="1745" y2="273.27"/><line x1="1058.3" y1="77.11" x2="1794.05" y2="77.11"/><line x1="1058.3" y1="126.15" x2="1794.05" y2="126.15"/><line x1="1058.3" y1="175.19" x2="1794.05" y2="175.19"/><line x1="1058.3" y1="224.23" x2="1794.05" y2="224.23"/></g>
<path d="M1181.8 146.2C1182.1 146.56 1185.17 148.75 1187 150C1188.83 151.25 1190.63 152.2 1192.8 153.7C1194.97 155.2 1197.35 157.02 1200 159C1202.65 160.98 1206.03 163.43 1208.7 165.6C1211.37 167.77 1213.37 169.77 1216 172C1218.63 174.23 1222 176.75 1224.5 179C1227 181.25 1228.63 183.25 1231 185.5C1233.37 187.75 1236.2 190.17 1238.7 192.5C1241.2 194.83 1243.37 197.13 1246 199.5C1248.63 201.87 1252.17 204.53 1254.5 206.7C1256.83 208.87 1257.88 210.38 1260 212.5C1262.12 214.62 1264.7 217.32 1267.2 219.4C1269.7 221.48 1272.37 223.15 1275 225C1277.63 226.85 1280.5 228.92 1283 230.5C1285.5 232.08 1287.63 233.18 1290 234.5C1292.37 235.82 1294.53 237.23 1297.2 238.4C1299.87 239.57 1302.83 240.63 1306 241.5C1309.17 242.37 1313.2 243.27 1316.2 243.6C1319.2 243.93 1321.37 243.85 1324 243.5C1326.63 243.15 1329.75 242.42 1332 241.5C1334.25 240.58 1335.92 239.45 1337.5 238C1339.08 236.55 1340.33 234.8 1341.5 232.8C1342.67 230.8 1343.7 228.1 1344.5 226C1345.3 223.9 1345.72 222.7 1346.3 220.2C1346.88 217.7 1347.47 213.9 1348 211C1348.53 208.1 1348.95 205.63 1349.5 202.8C1350.05 199.97 1350.65 196.9 1351.3 194C1351.95 191.1 1352.65 188.32 1353.4 185.4C1354.15 182.48 1355 179.4 1355.8 176.5C1356.6 173.6 1357.5 170.58 1358.2 168C1358.9 165.42 1359.48 163.25 1360 161C1360.52 158.75 1361.38 156.17 1361.3 154.5C1361.22 152.83 1360.47 151.87 1359.5 151C1358.53 150.13 1356.98 150 1355.5 149.3C1354.02 148.6 1353.06 146.88 1350.64 146.82C1348.21 146.76 1344.19 148.27 1340.95 148.93C1337.72 149.59 1334.47 150.2 1331.23 150.78C1327.99 151.36 1324.75 151.89 1321.52 152.39C1318.28 152.89 1315.04 153.35 1311.8 153.78C1308.57 154.2 1305.33 154.59 1302.09 154.95C1298.86 155.3 1295.62 155.62 1292.38 155.91C1289.14 156.19 1285.91 156.45 1282.67 156.66C1279.43 156.87 1276.19 157.06 1272.95 157.19C1269.71 157.33 1266.47 157.43 1263.23 157.49C1259.98 157.54 1256.74 157.55 1253.49 157.51C1250.25 157.47 1247 157.39 1243.75 157.24C1240.5 157.1 1237.25 156.9 1234 156.64C1230.75 156.38 1227.5 156.07 1224.24 155.69C1220.99 155.32 1217.73 154.89 1214.47 154.38C1211.22 153.87 1207.96 153.27 1204.71 152.62C1201.45 151.97 1198.18 151.27 1194.93 150.48C1191.69 149.68 1187.41 148.56 1185.22 147.85C1183.03 147.13 1181.5 145.84 1181.8 146.2Z" fill="none" stroke="#000" stroke-width="2.6" stroke-dasharray="10 9" stroke-dashoffset="2" stroke-linecap="butt" stroke-linejoin="round"/>
<path d="M1428.5 126.2C1429.92 125.58 1433.83 123.77 1437 122.5C1440.17 121.23 1444.5 119.72 1447.5 118.6C1450.5 117.48 1452.37 116.85 1455 115.8C1457.63 114.75 1460.63 113.45 1463.3 112.3C1465.97 111.15 1468.37 110.1 1471 108.9C1473.63 107.7 1476.43 106.22 1479.1 105.1C1481.77 103.98 1484.37 103.12 1487 102.2C1489.63 101.28 1492.07 100.55 1494.9 99.6C1497.73 98.65 1500.83 97.55 1504 96.5C1507.17 95.45 1510.9 94.43 1513.9 93.3C1516.9 92.17 1519.37 90.88 1522 89.7C1524.63 88.52 1527.03 87.2 1529.7 86.2C1532.37 85.2 1535.1 84.5 1538 83.7C1540.9 82.9 1544.1 82.18 1547.1 81.4C1550.1 80.62 1553.1 79.78 1556 79C1558.9 78.22 1561.67 77.42 1564.5 76.7C1567.33 75.98 1570.1 75.37 1573 74.7C1575.9 74.03 1579.07 73.35 1581.9 72.7C1584.73 72.05 1587.1 71.45 1590 70.8C1592.9 70.15 1596.13 69.28 1599.3 68.8C1602.47 68.32 1605.83 68.17 1609 67.9C1612.17 67.63 1615.47 67.37 1618.3 67.2C1621.13 67.03 1623.37 66.98 1626 66.9C1628.63 66.82 1632.75 66.73 1634.1 66.7" fill="none" stroke="#000" stroke-width="2.7" stroke-dasharray="9 8" stroke-dashoffset="0" stroke-linecap="butt" stroke-linejoin="round"/>
<path d="M1428.5 126.2C1430.42 126 1436.05 125.48 1440 125C1443.95 124.52 1448.53 124.1 1452.2 123.3C1455.87 122.5 1458.83 121.25 1462 120.2C1465.17 119.15 1468.03 118 1471.2 117C1474.37 116 1477.83 115.12 1481 114.2C1484.17 113.28 1487.03 112.37 1490.2 111.5C1493.37 110.63 1496.83 109.8 1500 109C1503.17 108.2 1506.2 107.4 1509.2 106.7C1512.2 106 1515.1 105.45 1518 104.8C1520.9 104.15 1523.77 103.5 1526.6 102.8C1529.43 102.1 1532.1 101.35 1535 100.6C1537.9 99.85 1541 99.02 1544 98.3C1547 97.58 1549.83 97 1553 96.3C1556.17 95.6 1560 94.9 1563 94.1C1566 93.3 1568.37 92.43 1571 91.5C1573.63 90.57 1576.13 89.55 1578.8 88.5C1581.47 87.45 1584.1 86.38 1587 85.2C1589.9 84.02 1593.37 82.43 1596.2 81.4C1599.03 80.37 1601.37 79.78 1604 79C1606.63 78.22 1609.62 77.75 1612 76.7C1614.38 75.65 1615.97 73.57 1618.3 72.7C1620.63 71.83 1623.37 71.82 1626 71.5C1628.63 71.18 1632.75 70.92 1634.1 70.8" fill="none" stroke="#000" stroke-width="2.6" stroke-dasharray="10 9.5" stroke-dashoffset="5" stroke-linecap="butt" stroke-linejoin="round"/>
</g>
<g stroke="#737373" stroke-width="1.05" fill="none"><rect x="1058.3" y="28.07" width="735.75" height="245.2"/><line x1="1156.4" y1="273.27" x2="1156.4" y2="265.87"/><line x1="1156.4" y1="28.07" x2="1156.4" y2="35.47"/><line x1="1254.5" y1="273.27" x2="1254.5" y2="265.87"/><line x1="1254.5" y1="28.07" x2="1254.5" y2="35.47"/><line x1="1352.6" y1="273.27" x2="1352.6" y2="265.87"/><line x1="1352.6" y1="28.07" x2="1352.6" y2="35.47"/><line x1="1450.7" y1="273.27" x2="1450.7" y2="265.87"/><line x1="1450.7" y1="28.07" x2="1450.7" y2="35.47"/><line x1="1548.8" y1="273.27" x2="1548.8" y2="265.87"/><line x1="1548.8" y1="28.07" x2="1548.8" y2="35.47"/><line x1="1646.9" y1="273.27" x2="1646.9" y2="265.87"/><line x1="1646.9" y1="28.07" x2="1646.9" y2="35.47"/><line x1="1745" y1="273.27" x2="1745" y2="265.87"/><line x1="1745" y1="28.07" x2="1745" y2="35.47"/><line x1="1058.3" y1="77.11" x2="1065.7" y2="77.11"/><line x1="1794.05" y1="77.11" x2="1786.65" y2="77.11"/><line x1="1058.3" y1="126.15" x2="1065.7" y2="126.15"/><line x1="1794.05" y1="126.15" x2="1786.65" y2="126.15"/><line x1="1058.3" y1="175.19" x2="1065.7" y2="175.19"/><line x1="1794.05" y1="175.19" x2="1786.65" y2="175.19"/><line x1="1058.3" y1="224.23" x2="1065.7" y2="224.23"/><line x1="1794.05" y1="224.23" x2="1786.65" y2="224.23"/></g>
<g font-family="Liberation Sans, sans-serif" font-size="22.4" fill="#262626"><text x="1156.4" y="299.67" text-anchor="middle">0</text><text x="1254.5" y="299.67" text-anchor="middle">0.2</text><text x="1352.6" y="299.67" text-anchor="middle">0.4</text><text x="1450.7" y="299.67" text-anchor="middle">0.6</text><text x="1548.8" y="299.67" text-anchor="middle">0.8</text><text x="1646.9" y="299.67" text-anchor="middle">1</text><text x="1745" y="299.67" text-anchor="middle">1.2</text><text x="1051.1" y="35.77" text-anchor="end">0.2</text><text x="1051.1" y="84.81" text-anchor="end">0.1</text><text x="1051.1" y="133.85" text-anchor="end">0</text><text x="1051.1" y="182.89" text-anchor="end">-0.1</text><text x="1051.1" y="231.93" text-anchor="end">-0.2</text><text x="1051.1" y="280.97" text-anchor="end">-0.3</text></g><g font-family="Liberation Sans, sans-serif" font-size="24.5" fill="#262626"><text x="1426.18" y="327.67" text-anchor="middle">x/c [-]</text><text transform="translate(1003.8 150.67) rotate(-90)" text-anchor="middle">y/c [-]</text></g>
<rect x="1803.95" y="28.07" width="15.6" height="245.2" fill="url(#cbB)" stroke="#666" stroke-width="1.2"/><rect x="1823.95" y="28.07" width="15.7" height="245.2" fill="url(#cbR)" stroke="#666" stroke-width="1.2"/><g stroke="#555" stroke-width="1.2"><line x1="1839.65" y1="224.23" x2="1837.15" y2="224.23"/><line x1="1839.65" y1="175.19" x2="1837.15" y2="175.19"/><line x1="1839.65" y1="126.15" x2="1837.15" y2="126.15"/><line x1="1839.65" y1="77.11" x2="1837.15" y2="77.11"/></g><g font-family="Liberation Sans, sans-serif" font-size="22.4" fill="#262626"><text x="1845.85" y="280.97">0</text><text x="1845.85" y="231.93">0.2</text><text x="1845.85" y="182.89">0.4</text><text x="1845.85" y="133.85">0.6</text><text x="1845.85" y="84.81">0.8</text><text x="1845.85" y="35.77">1</text></g>
<g font-family="Liberation Serif, serif" font-size="33.6" fill="#111"><text x="1238.9" y="397.3">(b)</text><text x="1286.1" y="397.3">Ma</text><text transform="translate(1330.8 402.5) scale(1.12 1)" font-size="30">∞</text><text x="1400.6" y="397.3">0.6,</text><text x="1461.4" y="397.3">AoA</text><text x="1585.8" y="397.3">6</text></g><g stroke="#111" stroke-width="1.5" fill="none"><line x1="1368.4" y1="385.4" x2="1390.8" y2="385.4"/><line x1="1368.4" y1="392.4" x2="1390.8" y2="392.4"/><line x1="1527.4" y1="385.4" x2="1549.8" y2="385.4"/><line x1="1527.4" y1="392.4" x2="1549.8" y2="392.4"/><line x1="1562.6" y1="388.9" x2="1583.4" y2="388.9"/><circle cx="1609.6" cy="376.9" r="4.5" stroke-width="1.4"/></g>
<g clip-path="url(#clipc)">
<rect x="160" y="500" width="240" height="180" fill="url(#lg14)" mask="url(#mk16)"/>
<g filter="url(#bl21)" mask="url(#mk19)" fill="none" stroke="#000080" stroke-linecap="butt" stroke-linejoin="round"><path d="M384.3 532.13C385.94 531.61 390.86 530.11 394.14 529.03C397.42 527.94 400.71 526.81 404 525.62C407.28 524.43 410.56 523.19 413.85 521.9C417.13 520.62 420.42 519.27 423.7 517.89C426.98 516.51 430.26 515.07 433.55 513.6C436.83 512.13 440.11 510.61 443.39 509.07C446.67 507.53 449.95 505.95 453.23 504.35C456.51 502.76 459.79 501.13 463.06 499.51C466.34 497.89 469.62 496.24 472.89 494.61C476.17 492.98 479.44 491.35 482.72 489.73C485.99 488.12 489.27 486.51 492.54 484.93C495.81 483.35 499.08 481.79 502.35 480.26C505.63 478.73 508.9 477.23 512.17 475.76C515.44 474.29 518.71 472.85 521.98 471.45C525.25 470.05 528.52 468.68 531.79 467.34C535.06 466.01 538.33 464.71 541.6 463.44C544.87 462.17 548.14 460.94 551.41 459.74C554.69 458.53 557.96 457.35 561.23 456.21C564.5 455.07 567.77 453.95 571.04 452.87C574.31 451.78 577.58 450.72 580.85 449.7C584.12 448.67 587.39 447.67 590.66 446.7C593.93 445.74 597.2 444.8 600.47 443.91C603.74 443.02 607 442.15 610.27 441.36C613.54 440.57 616.8 439.83 620.07 439.15C623.33 438.46 626.6 437.82 629.86 437.26C633.12 436.7 636.38 436.22 639.65 435.8C642.91 435.38 646.17 435.03 649.44 434.72C652.71 434.41 655.97 434.18 659.25 433.94C662.52 433.7 665.11 432.18 669.07 433.27C673.03 434.37 678.29 438.21 683 440.5C687.71 442.79 690.85 444.08 697.3 447C703.75 449.92 713.58 454.5 721.7 458C729.82 461.5 737.62 464.67 746 468C754.38 471.33 767.67 476.33 772 478" stroke-width="148" stroke-opacity="0.05"/><path d="M384.3 532.13C385.94 531.61 390.86 530.11 394.14 529.03C397.42 527.94 400.71 526.81 404 525.62C407.28 524.43 410.56 523.19 413.85 521.9C417.13 520.62 420.42 519.27 423.7 517.89C426.98 516.51 430.26 515.07 433.55 513.6C436.83 512.13 440.11 510.61 443.39 509.07C446.67 507.53 449.95 505.95 453.23 504.35C456.51 502.76 459.79 501.13 463.06 499.51C466.34 497.89 469.62 496.24 472.89 494.61C476.17 492.98 479.44 491.35 482.72 489.73C485.99 488.12 489.27 486.51 492.54 484.93C495.81 483.35 499.08 481.79 502.35 480.26C505.63 478.73 508.9 477.23 512.17 475.76C515.44 474.29 518.71 472.85 521.98 471.45C525.25 470.05 528.52 468.68 531.79 467.34C535.06 466.01 538.33 464.71 541.6 463.44C544.87 462.17 548.14 460.94 551.41 459.74C554.69 458.53 557.96 457.35 561.23 456.21C564.5 455.07 567.77 453.95 571.04 452.87C574.31 451.78 577.58 450.72 580.85 449.7C584.12 448.67 587.39 447.67 590.66 446.7C593.93 445.74 597.2 444.8 600.47 443.91C603.74 443.02 607 442.15 610.27 441.36C613.54 440.57 616.8 439.83 620.07 439.15C623.33 438.46 626.6 437.82 629.86 437.26C633.12 436.7 636.38 436.22 639.65 435.8C642.91 435.38 646.17 435.03 649.44 434.72C652.71 434.41 655.97 434.18 659.25 433.94C662.52 433.7 665.11 432.18 669.07 433.27C673.03 434.37 678.29 438.21 683 440.5C687.71 442.79 690.85 444.08 697.3 447C703.75 449.92 713.58 454.5 721.7 458C729.82 461.5 737.62 464.67 746 468C754.38 471.33 767.67 476.33 772 478" stroke-width="122" stroke-opacity="0.05"/><path d="M384.3 532.13C385.94 531.61 390.86 530.11 394.14 529.03C397.42 527.94 400.71 526.81 404 525.62C407.28 524.43 410.56 523.19 413.85 521.9C417.13 520.62 420.42 519.27 423.7 517.89C426.98 516.51 430.26 515.07 433.55 513.6C436.83 512.13 440.11 510.61 443.39 509.07C446.67 507.53 449.95 505.95 453.23 504.35C456.51 502.76 459.79 501.13 463.06 499.51C466.34 497.89 469.62 496.24 472.89 494.61C476.17 492.98 479.44 491.35 482.72 489.73C485.99 488.12 489.27 486.51 492.54 484.93C495.81 483.35 499.08 481.79 502.35 480.26C505.63 478.73 508.9 477.23 512.17 475.76C515.44 474.29 518.71 472.85 521.98 471.45C525.25 470.05 528.52 468.68 531.79 467.34C535.06 466.01 538.33 464.71 541.6 463.44C544.87 462.17 548.14 460.94 551.41 459.74C554.69 458.53 557.96 457.35 561.23 456.21C564.5 455.07 567.77 453.95 571.04 452.87C574.31 451.78 577.58 450.72 580.85 449.7C584.12 448.67 587.39 447.67 590.66 446.7C593.93 445.74 597.2 444.8 600.47 443.91C603.74 443.02 607 442.15 610.27 441.36C613.54 440.57 616.8 439.83 620.07 439.15C623.33 438.46 626.6 437.82 629.86 437.26C633.12 436.7 636.38 436.22 639.65 435.8C642.91 435.38 646.17 435.03 649.44 434.72C652.71 434.41 655.97 434.18 659.25 433.94C662.52 433.7 665.11 432.18 669.07 433.27C673.03 434.37 678.29 438.21 683 440.5C687.71 442.79 690.85 444.08 697.3 447C703.75 449.92 713.58 454.5 721.7 458C729.82 461.5 737.62 464.67 746 468C754.38 471.33 767.67 476.33 772 478" stroke-width="100" stroke-opacity="0.09"/><path d="M384.3 532.13C385.94 531.61 390.86 530.11 394.14 529.03C397.42 527.94 400.71 526.81 404 525.62C407.28 524.43 410.56 523.19 413.85 521.9C417.13 520.62 420.42 519.27 423.7 517.89C426.98 516.51 430.26 515.07 433.55 513.6C436.83 512.13 440.11 510.61 443.39 509.07C446.67 507.53 449.95 505.95 453.23 504.35C456.51 502.76 459.79 501.13 463.06 499.51C466.34 497.89 469.62 496.24 472.89 494.61C476.17 492.98 479.44 491.35 482.72 489.73C485.99 488.12 489.27 486.51 492.54 484.93C495.81 483.35 499.08 481.79 502.35 480.26C505.63 478.73 508.9 477.23 512.17 475.76C515.44 474.29 518.71 472.85 521.98 471.45C525.25 470.05 528.52 468.68 531.79 467.34C535.06 466.01 538.33 464.71 541.6 463.44C544.87 462.17 548.14 460.94 551.41 459.74C554.69 458.53 557.96 457.35 561.23 456.21C564.5 455.07 567.77 453.95 571.04 452.87C574.31 451.78 577.58 450.72 580.85 449.7C584.12 448.67 587.39 447.67 590.66 446.7C593.93 445.74 597.2 444.8 600.47 443.91C603.74 443.02 607 442.15 610.27 441.36C613.54 440.57 616.8 439.83 620.07 439.15C623.33 438.46 626.6 437.82 629.86 437.26C633.12 436.7 636.38 436.22 639.65 435.8C642.91 435.38 646.17 435.03 649.44 434.72C652.71 434.41 655.97 434.18 659.25 433.94C662.52 433.7 665.11 432.18 669.07 433.27C673.03 434.37 678.29 438.21 683 440.5C687.71 442.79 690.85 444.08 697.3 447C703.75 449.92 713.58 454.5 721.7 458C729.82 461.5 737.62 464.67 746 468C754.38 471.33 767.67 476.33 772 478" stroke-width="82" stroke-opacity="0.11"/><path d="M384.3 532.13C385.94 531.61 390.86 530.11 394.14 529.03C397.42 527.94 400.71 526.81 404 525.62C407.28 524.43 410.56 523.19 413.85 521.9C417.13 520.62 420.42 519.27 423.7 517.89C426.98 516.51 430.26 515.07 433.55 513.6C436.83 512.13 440.11 510.61 443.39 509.07C446.67 507.53 449.95 505.95 453.23 504.35C456.51 502.76 459.79 501.13 463.06 499.51C466.34 497.89 469.62 496.24 472.89 494.61C476.17 492.98 479.44 491.35 482.72 489.73C485.99 488.12 489.27 486.51 492.54 484.93C495.81 483.35 499.08 481.79 502.35 480.26C505.63 478.73 508.9 477.23 512.17 475.76C515.44 474.29 518.71 472.85 521.98 471.45C525.25 470.05 528.52 468.68 531.79 467.34C535.06 466.01 538.33 464.71 541.6 463.44C544.87 462.17 548.14 460.94 551.41 459.74C554.69 458.53 557.96 457.35 561.23 456.21C564.5 455.07 567.77 453.95 571.04 452.87C574.31 451.78 577.58 450.72 580.85 449.7C584.12 448.67 587.39 447.67 590.66 446.7C593.93 445.74 597.2 444.8 600.47 443.91C603.74 443.02 607 442.15 610.27 441.36C613.54 440.57 616.8 439.83 620.07 439.15C623.33 438.46 626.6 437.82 629.86 437.26C633.12 436.7 636.38 436.22 639.65 435.8C642.91 435.38 646.17 435.03 649.44 434.72C652.71 434.41 655.97 434.18 659.25 433.94C662.52 433.7 665.11 432.18 669.07 433.27C673.03 434.37 678.29 438.21 683 440.5C687.71 442.79 690.85 444.08 697.3 447C703.75 449.92 713.58 454.5 721.7 458C729.82 461.5 737.62 464.67 746 468C754.38 471.33 767.67 476.33 772 478" stroke-width="66" stroke-opacity="0.14"/><path d="M384.3 532.13C385.94 531.61 390.86 530.11 394.14 529.03C397.42 527.94 400.71 526.81 404 525.62C407.28 524.43 410.56 523.19 413.85 521.9C417.13 520.62 420.42 519.27 423.7 517.89C426.98 516.51 430.26 515.07 433.55 513.6C436.83 512.13 440.11 510.61 443.39 509.07C446.67 507.53 449.95 505.95 453.23 504.35C456.51 502.76 459.79 501.13 463.06 499.51C466.34 497.89 469.62 496.24 472.89 494.61C476.17 492.98 479.44 491.35 482.72 489.73C485.99 488.12 489.27 486.51 492.54 484.93C495.81 483.35 499.08 481.79 502.35 480.26C505.63 478.73 508.9 477.23 512.17 475.76C515.44 474.29 518.71 472.85 521.98 471.45C525.25 470.05 528.52 468.68 531.79 467.34C535.06 466.01 538.33 464.71 541.6 463.44C544.87 462.17 548.14 460.94 551.41 459.74C554.69 458.53 557.96 457.35 561.23 456.21C564.5 455.07 567.77 453.95 571.04 452.87C574.31 451.78 577.58 450.72 580.85 449.7C584.12 448.67 587.39 447.67 590.66 446.7C593.93 445.74 597.2 444.8 600.47 443.91C603.74 443.02 607 442.15 610.27 441.36C613.54 440.57 616.8 439.83 620.07 439.15C623.33 438.46 626.6 437.82 629.86 437.26C633.12 436.7 636.38 436.22 639.65 435.8C642.91 435.38 646.17 435.03 649.44 434.72C652.71 434.41 655.97 434.18 659.25 433.94C662.52 433.7 665.11 432.18 669.07 433.27C673.03 434.37 678.29 438.21 683 440.5C687.71 442.79 690.85 444.08 697.3 447C703.75 449.92 713.58 454.5 721.7 458C729.82 461.5 737.62 464.67 746 468C754.38 471.33 767.67 476.33 772 478" stroke-width="52" stroke-opacity="0.16"/><path d="M384.3 532.13C385.94 531.61 390.86 530.11 394.14 529.03C397.42 527.94 400.71 526.81 404 525.62C407.28 524.43 410.56 523.19 413.85 521.9C417.13 520.62 420.42 519.27 423.7 517.89C426.98 516.51 430.26 515.07 433.55 513.6C436.83 512.13 440.11 510.61 443.39 509.07C446.67 507.53 449.95 505.95 453.23 504.35C456.51 502.76 459.79 501.13 463.06 499.51C466.34 497.89 469.62 496.24 472.89 494.61C476.17 492.98 479.44 491.35 482.72 489.73C485.99 488.12 489.27 486.51 492.54 484.93C495.81 483.35 499.08 481.79 502.35 480.26C505.63 478.73 508.9 477.23 512.17 475.76C515.44 474.29 518.71 472.85 521.98 471.45C525.25 470.05 528.52 468.68 531.79 467.34C535.06 466.01 538.33 464.71 541.6 463.44C544.87 462.17 548.14 460.94 551.41 459.74C554.69 458.53 557.96 457.35 561.23 456.21C564.5 455.07 567.77 453.95 571.04 452.87C574.31 451.78 577.58 450.72 580.85 449.7C584.12 448.67 587.39 447.67 590.66 446.7C593.93 445.74 597.2 444.8 600.47 443.91C603.74 443.02 607 442.15 610.27 441.36C613.54 440.57 616.8 439.83 620.07 439.15C623.33 438.46 626.6 437.82 629.86 437.26C633.12 436.7 636.38 436.22 639.65 435.8C642.91 435.38 646.17 435.03 649.44 434.72C652.71 434.41 655.97 434.18 659.25 433.94C662.52 433.7 665.11 432.18 669.07 433.27C673.03 434.37 678.29 438.21 683 440.5C687.71 442.79 690.85 444.08 697.3 447C703.75 449.92 713.58 454.5 721.7 458C729.82 461.5 737.62 464.67 746 468C754.38 471.33 767.67 476.33 772 478" stroke-width="40" stroke-opacity="0.17"/><path d="M384.3 532.13C385.94 531.61 390.86 530.11 394.14 529.03C397.42 527.94 400.71 526.81 404 525.62C407.28 524.43 410.56 523.19 413.85 521.9C417.13 520.62 420.42 519.27 423.7 517.89C426.98 516.51 430.26 515.07 433.55 513.6C436.83 512.13 440.11 510.61 443.39 509.07C446.67 507.53 449.95 505.95 453.23 504.35C456.51 502.76 459.79 501.13 463.06 499.51C466.34 497.89 469.62 496.24 472.89 494.61C476.17 492.98 479.44 491.35 482.72 489.73C485.99 488.12 489.27 486.51 492.54 484.93C495.81 483.35 499.08 481.79 502.35 480.26C505.63 478.73 508.9 477.23 512.17 475.76C515.44 474.29 518.71 472.85 521.98 471.45C525.25 470.05 528.52 468.68 531.79 467.34C535.06 466.01 538.33 464.71 541.6 463.44C544.87 462.17 548.14 460.94 551.41 459.74C554.69 458.53 557.96 457.35 561.23 456.21C564.5 455.07 567.77 453.95 571.04 452.87C574.31 451.78 577.58 450.72 580.85 449.7C584.12 448.67 587.39 447.67 590.66 446.7C593.93 445.74 597.2 444.8 600.47 443.91C603.74 443.02 607 442.15 610.27 441.36C613.54 440.57 616.8 439.83 620.07 439.15C623.33 438.46 626.6 437.82 629.86 437.26C633.12 436.7 636.38 436.22 639.65 435.8C642.91 435.38 646.17 435.03 649.44 434.72C652.71 434.41 655.97 434.18 659.25 433.94C662.52 433.7 665.11 432.18 669.07 433.27C673.03 434.37 678.29 438.21 683 440.5C687.71 442.79 690.85 444.08 697.3 447C703.75 449.92 713.58 454.5 721.7 458C729.82 461.5 737.62 464.67 746 468C754.38 471.33 767.67 476.33 772 478" stroke-width="28" stroke-opacity="0.18"/><path d="M384.3 532.13C385.94 531.61 390.86 530.11 394.14 529.03C397.42 527.94 400.71 526.81 404 525.62C407.28 524.43 410.56 523.19 413.85 521.9C417.13 520.62 420.42 519.27 423.7 517.89C426.98 516.51 430.26 515.07 433.55 513.6C436.83 512.13 440.11 510.61 443.39 509.07C446.67 507.53 449.95 505.95 453.23 504.35C456.51 502.76 459.79 501.13 463.06 499.51C466.34 497.89 469.62 496.24 472.89 494.61C476.17 492.98 479.44 491.35 482.72 489.73C485.99 488.12 489.27 486.51 492.54 484.93C495.81 483.35 499.08 481.79 502.35 480.26C505.63 478.73 508.9 477.23 512.17 475.76C515.44 474.29 518.71 472.85 521.98 471.45C525.25 470.05 528.52 468.68 531.79 467.34C535.06 466.01 538.33 464.71 541.6 463.44C544.87 462.17 548.14 460.94 551.41 459.74C554.69 458.53 557.96 457.35 561.23 456.21C564.5 455.07 567.77 453.95 571.04 452.87C574.31 451.78 577.58 450.72 580.85 449.7C584.12 448.67 587.39 447.67 590.66 446.7C593.93 445.74 597.2 444.8 600.47 443.91C603.74 443.02 607 442.15 610.27 441.36C613.54 440.57 616.8 439.83 620.07 439.15C623.33 438.46 626.6 437.82 629.86 437.26C633.12 436.7 636.38 436.22 639.65 435.8C642.91 435.38 646.17 435.03 649.44 434.72C652.71 434.41 655.97 434.18 659.25 433.94C662.52 433.7 665.11 432.18 669.07 433.27C673.03 434.37 678.29 438.21 683 440.5C687.71 442.79 690.85 444.08 697.3 447C703.75 449.92 713.58 454.5 721.7 458C729.82 461.5 737.62 464.67 746 468C754.38 471.33 767.67 476.33 772 478" stroke-width="16" stroke-opacity="0.17"/></g>
<path d="M600 470C610 459.67 628.67 455 640 450C651.33 445 658 441.17 668 440C678 438.83 688.67 441 700 443C711.33 445 726 448.5 736 452C746 455.5 753.67 459.33 760 464C766.33 468.67 773 474.5 774 480C775 485.5 770.83 492.67 766 497C761.17 501.33 754.33 504.17 745 506C735.67 507.83 723.33 508.17 710 508C696.67 507.83 680 505 665 505C650 505 634.17 506.83 620 508C605.83 509.17 583.33 518.33 580 512C576.67 505.67 590 480.33 600 470Z" fill="#000080" fill-opacity="0.085" filter="url(#bl22)"/>
<path d="M565.9 401.79L565.9 431.79L575.05 431.91L583.87 432.01L592.36 432.1L600.48 432.16L608.24 432.2L615.6 432.22L622.56 432.22L629.1 432.2L635.21 432.17L640.88 432.13L646.1 432.08L650.85 432.05L655.12 432.02L658.92 432L662.23 432L665.04 432.01L667.36 432.02L669.16 432.04L670.45 432.06L671.23 432.08L671.49 432.08L680.49 431.88L680.49 402.08Z" fill="#fff"/>
<path d="M194.91 534.39C195.81 534.98 198.51 536.93 200.34 537.94C202.17 538.95 204.05 539.71 205.89 540.43C207.72 541.16 209.53 541.73 211.34 542.29C213.15 542.86 214.94 543.35 216.74 543.81C218.54 544.28 220.33 544.69 222.12 545.09C223.91 545.49 225.7 545.85 227.49 546.19C229.27 546.53 231.06 546.84 232.85 547.14C234.63 547.43 236.41 547.71 238.2 547.96C239.98 548.22 241.77 548.46 243.56 548.67C245.34 548.88 247.13 549.06 248.92 549.23C250.7 549.39 252.48 549.54 254.26 549.67C256.05 549.81 257.83 549.93 259.62 550.03C261.4 550.12 263.19 550.2 264.97 550.25C266.76 550.31 268.54 550.33 270.32 550.35C272.11 550.37 273.89 550.39 275.67 550.38C277.45 550.36 279.24 550.33 281.02 550.28C282.8 550.23 284.58 550.15 286.36 550.07C288.14 549.99 289.93 549.92 291.71 549.81C293.49 549.7 295.28 549.55 297.06 549.41C298.84 549.27 300.61 549.13 302.39 548.96C304.17 548.8 305.95 548.61 307.73 548.42C309.51 548.23 311.29 548.02 313.07 547.81C314.84 547.59 316.63 547.38 318.4 547.14C320.18 546.9 321.96 546.64 323.74 546.38C325.51 546.12 327.29 545.87 329.07 545.59C330.85 545.31 332.63 544.99 334.41 544.69C336.18 544.39 337.96 544.09 339.74 543.77C341.52 543.45 343.3 543.09 345.07 542.75C346.85 542.4 349.5 541.87 350.39 541.7" fill="none" stroke="#fff" stroke-width="2.2"/>
<path d="M384.6 533.08C386.21 532.57 391.05 531.1 394.28 530.04C397.51 528.97 400.75 527.85 403.99 526.69C407.22 525.52 410.46 524.31 413.69 523.05C416.93 521.78 420.16 520.47 423.39 519.11C426.63 517.76 429.86 516.35 433.09 514.91C436.32 513.47 439.55 511.97 442.78 510.46C446.01 508.95 449.23 507.4 452.46 505.83C455.68 504.27 458.91 502.68 462.13 501.09C465.35 499.49 468.57 497.88 471.79 496.28C475.01 494.68 478.22 493.07 481.44 491.49C484.65 489.9 487.87 488.31 491.08 486.76C494.29 485.2 497.5 483.66 500.71 482.14C503.92 480.63 507.13 479.14 510.34 477.69C513.55 476.23 516.76 474.81 519.97 473.41C523.18 472.02 526.38 470.66 529.59 469.34C532.8 468.01 536.01 466.72 539.21 465.46C542.42 464.2 545.63 462.97 548.84 461.77C552.05 460.57 555.25 459.4 558.46 458.26C561.67 457.12 564.88 456.01 568.09 454.92C571.3 453.83 574.51 452.77 577.72 451.74C580.92 450.71 584.13 449.7 587.34 448.73C590.54 447.76 593.75 446.82 596.95 445.92C600.16 445.02 603.36 444.16 606.56 443.34C609.77 442.52 612.97 441.73 616.16 441.01C619.36 440.29 622.55 439.63 625.75 439.03C628.94 438.43 632.14 437.88 635.33 437.4C638.52 436.93 641.71 436.53 644.91 436.18C648.1 435.83 651.3 435.55 654.51 435.29C657.71 435.03 662.53 434.73 664.14 434.62" fill="none" stroke="#fff" stroke-width="2.2"/>
<path d="M190.5 524.07C190.34 523.24 190.27 522.39 190.28 521.53C190.28 520.68 190.37 519.8 190.55 518.91C190.72 518.02 190.98 517.12 191.32 516.21C191.66 515.29 192.08 514.36 192.59 513.41C193.09 512.46 193.68 511.5 194.34 510.52C195.01 509.54 195.76 508.54 196.58 507.52C197.41 506.5 198.31 505.46 199.29 504.39C200.27 503.33 201.33 502.24 202.47 501.13C203.6 500.01 204.81 498.87 206.1 497.7C207.38 496.53 208.74 495.33 210.17 494.1C211.59 492.87 213.1 491.62 214.67 490.33C216.24 489.05 217.88 487.74 219.59 486.41C221.3 485.08 223.08 483.72 224.93 482.35C226.78 480.98 228.7 479.59 230.68 478.2C232.66 476.81 234.72 475.4 236.84 474C238.96 472.61 241.14 471.2 243.4 469.82C245.65 468.44 247.97 467.06 250.36 465.71C252.75 464.36 255.2 463.03 257.71 461.74C260.23 460.44 262.81 459.17 265.46 457.95C268.1 456.73 270.81 455.54 273.58 454.4C276.35 453.26 279.19 452.16 282.07 451.11C284.96 450.06 287.92 449.06 290.92 448.11C293.92 447.15 296.99 446.25 300.1 445.39C303.21 444.54 306.38 443.73 309.59 442.97C312.8 442.21 316.07 441.49 319.37 440.82C322.68 440.15 326.03 439.52 329.42 438.93C332.81 438.33 336.24 437.78 339.71 437.27C343.17 436.75 346.68 436.27 350.21 435.82C353.74 435.37 357.31 434.96 360.9 434.57C364.49 434.19 368.11 433.83 371.75 433.51C375.39 433.18 379.06 432.88 382.74 432.6C386.42 432.33 390.13 432.09 393.84 431.86C397.56 431.64 401.29 431.44 405.03 431.27C408.77 431.1 412.52 430.95 416.28 430.82C420.04 430.69 423.81 430.59 427.57 430.5C431.33 430.42 435.11 430.35 438.87 430.31C442.63 430.26 446.4 430.23 450.15 430.21C453.91 430.2 457.66 430.2 461.4 430.21C465.13 430.22 468.86 430.25 472.57 430.28C476.28 430.32 479.98 430.36 483.65 430.41C487.33 430.46 490.98 430.51 494.61 430.57C498.24 430.63 501.85 430.69 505.43 430.75C509 430.82 512.55 430.88 516.07 430.95C519.58 431.01 523.07 431.08 526.51 431.14C529.96 431.2 533.37 431.26 536.74 431.32C540.11 431.38 543.45 431.44 546.73 431.49C550.02 431.55 553.26 431.6 556.46 431.65C559.65 431.7 562.81 431.75 565.9 431.79C569 431.83 572.05 431.87 575.05 431.91C578.04 431.95 580.99 431.98 583.87 432.01C586.76 432.05 589.59 432.07 592.36 432.1C595.13 432.12 597.84 432.14 600.48 432.16C603.13 432.18 605.72 432.19 608.24 432.2C610.76 432.21 613.22 432.22 615.6 432.22C617.99 432.22 620.31 432.22 622.56 432.22C624.81 432.21 627 432.21 629.1 432.2C631.21 432.19 633.25 432.18 635.21 432.17C637.18 432.15 639.07 432.14 640.88 432.13C642.69 432.11 644.43 432.1 646.1 432.08C647.76 432.07 649.34 432.06 650.85 432.05C652.35 432.04 653.78 432.03 655.12 432.02C656.47 432.01 657.74 432 658.92 432C660.11 432 661.21 432 662.23 432C663.25 432 664.19 432 665.04 432.01C665.9 432.01 666.67 432.02 667.36 432.02C668.04 432.03 668.65 432.04 669.16 432.04C669.68 432.05 670.11 432.06 670.45 432.06C670.8 432.07 671.06 432.07 671.23 432.08C671.4 432.08 671.45 432.08 671.49 432.08C671.45 432.08 671.41 432.09 671.24 432.1C671.07 432.12 670.81 432.14 670.47 432.16C670.13 432.19 669.71 432.22 669.2 432.26C668.7 432.3 668.1 432.34 667.43 432.39C666.75 432.44 665.99 432.49 665.15 432.55C664.31 432.6 663.38 432.66 662.37 432.73C661.36 432.8 660.27 432.87 659.1 432.95C657.93 433.03 656.68 433.12 655.35 433.22C654.02 433.32 652.62 433.43 651.13 433.55C649.65 433.68 648.09 433.82 646.46 433.99C644.83 434.16 643.12 434.35 641.35 434.56C639.57 434.78 637.73 435.02 635.81 435.3C633.9 435.58 631.92 435.89 629.88 436.24C627.83 436.59 625.72 436.97 623.55 437.4C621.38 437.82 619.15 438.29 616.86 438.79C614.57 439.3 612.22 439.85 609.81 440.44C607.41 441.03 604.95 441.66 602.43 442.33C599.91 443 597.34 443.71 594.72 444.46C592.1 445.21 589.43 446 586.71 446.83C583.98 447.65 581.21 448.52 578.4 449.41C575.58 450.31 572.72 451.25 569.81 452.22C566.91 453.19 563.96 454.19 560.97 455.24C557.99 456.28 554.96 457.36 551.9 458.49C548.83 459.61 545.73 460.77 542.61 461.97C539.48 463.17 536.32 464.42 533.13 465.71C529.94 467 526.72 468.33 523.48 469.7C520.24 471.08 516.98 472.5 513.69 473.96C510.41 475.43 507.1 476.94 503.78 478.48C500.46 480.02 497.11 481.61 493.76 483.22C490.4 484.84 487.03 486.49 483.65 488.16C480.26 489.82 476.86 491.52 473.45 493.22C470.04 494.91 466.62 496.63 463.19 498.33C459.75 500.03 456.31 501.74 452.86 503.42C449.41 505.1 445.94 506.77 442.47 508.4C439 510.03 435.52 511.64 432.04 513.19C428.56 514.74 425.06 516.26 421.57 517.72C418.08 519.18 414.57 520.59 411.07 521.94C407.57 523.29 404.07 524.59 400.57 525.82C397.07 527.05 393.57 528.22 390.08 529.33C386.59 530.45 383.1 531.5 379.63 532.49C376.16 533.49 372.69 534.42 369.24 535.31C365.79 536.19 362.35 537.02 358.94 537.8C355.53 538.58 352.13 539.31 348.76 540C345.39 540.69 342.03 541.33 338.72 541.93C335.4 542.53 332.1 543.09 328.84 543.6C325.58 544.12 322.35 544.6 319.16 545.03C315.97 545.47 312.81 545.86 309.69 546.21C306.57 546.57 303.49 546.88 300.45 547.15C297.41 547.42 294.41 547.64 291.46 547.83C288.51 548.01 285.59 548.15 282.73 548.24C279.87 548.34 277.06 548.39 274.3 548.4C271.53 548.41 268.82 548.38 266.16 548.3C263.5 548.23 260.9 548.12 258.35 547.97C255.8 547.82 253.31 547.63 250.88 547.42C248.46 547.21 246.09 546.96 243.78 546.68C241.48 546.41 239.24 546.11 237.07 545.79C234.9 545.48 232.79 545.13 230.76 544.77C228.72 544.42 226.76 544.04 224.87 543.65C222.98 543.26 221.16 542.86 219.41 542.44C217.67 542.02 216 541.59 214.41 541.14C212.81 540.69 211.3 540.23 209.86 539.75C208.42 539.27 207.06 538.78 205.77 538.26C204.49 537.75 203.28 537.21 202.15 536.65C201.03 536.1 199.98 535.52 199.01 534.92C198.04 534.31 197.15 533.68 196.34 533.03C195.53 532.38 194.8 531.7 194.15 531C193.5 530.29 192.93 529.57 192.44 528.82C191.96 528.07 191.55 527.29 191.23 526.5C190.9 525.71 190.66 524.89 190.5 524.07Z" fill="#808080" stroke="#0a0a0a" stroke-width="1.7" stroke-linejoin="round"/>
<g stroke="#000" stroke-opacity="0.085" stroke-width="1.2"><line x1="190.6" y1="428.07" x2="190.6" y2="673.27"/><line x1="288.7" y1="428.07" x2="288.7" y2="673.27"/><line x1="386.8" y1="428.07" x2="386.8" y2="673.27"/><line x1="484.9" y1="428.07" x2="484.9" y2="673.27"/><line x1="583" y1="428.07" x2="583" y2="673.27"/><line x1="681.1" y1="428.07" x2="681.1" y2="673.27"/><line x1="779.2" y1="428.07" x2="779.2" y2="673.27"/><line x1="92.5" y1="477.11" x2="828.25" y2="477.11"/><line x1="92.5" y1="526.15" x2="828.25" y2="526.15"/><line x1="92.5" y1="575.19" x2="828.25" y2="575.19"/><line x1="92.5" y1="624.23" x2="828.25" y2="624.23"/></g>
<path d="M193.7 538.6C194.11 540.88 195.68 545.57 197 549C198.32 552.43 199.6 555.28 201.6 559.2C203.6 563.12 206.35 568.28 209 572.5C211.65 576.72 214.83 580.67 217.5 584.5C220.17 588.33 222.37 592.07 225 595.5C227.63 598.93 230.63 602.13 233.3 605.1C235.97 608.07 238.37 610.67 241 613.3C243.63 615.93 246.43 618.4 249.1 620.9C251.77 623.4 254.37 625.93 257 628.3C259.63 630.67 262.32 632.98 264.9 635.1C267.48 637.22 269.87 639.15 272.5 641C275.13 642.85 278.03 644.62 280.7 646.2C283.37 647.78 285.87 649.18 288.5 650.5C291.13 651.82 293.83 653.1 296.5 654.1C299.17 655.1 301.85 655.87 304.5 656.5C307.15 657.13 309.73 657.6 312.4 657.9C315.07 658.2 317.87 658.4 320.5 658.3C323.13 658.2 325.62 657.98 328.2 657.3C330.78 656.62 333.63 655.52 336 654.2C338.37 652.88 340.57 651.52 342.4 649.4C344.23 647.28 345.68 644.4 347 641.5C348.32 638.6 349.48 635.92 350.3 632C351.12 628.08 351.47 622.75 351.9 618C352.33 613.25 352.62 608.33 352.9 603.5C353.18 598.67 353.35 593.75 353.6 589C353.85 584.25 353.92 579.17 354.4 575C354.88 570.83 355.6 567.42 356.5 564C357.4 560.58 359.28 556.78 359.8 554.5C360.32 552.22 360.15 551.52 359.6 550.3C359.05 549.08 358.1 548.03 356.5 547.2C354.9 546.37 351.99 545.86 350 545.3C348.01 544.74 347.1 543.81 344.54 543.87C341.98 543.93 337.94 545.1 334.64 545.66C331.33 546.23 328.02 546.76 324.71 547.25C321.39 547.74 318.08 548.19 314.77 548.6C311.46 549.02 308.14 549.39 304.83 549.72C301.51 550.05 298.2 550.34 294.88 550.58C291.56 550.81 288.24 551.01 284.92 551.14C281.6 551.28 278.28 551.37 274.95 551.39C271.62 551.41 268.3 551.37 264.97 551.26C261.64 551.15 258.31 550.97 254.99 550.73C251.66 550.49 248.33 550.2 245 549.83C241.67 549.45 238.34 549.02 235.01 548.5C231.67 547.98 228.34 547.42 225 546.73C221.65 546.04 218.32 545.32 214.93 544.37C211.54 543.43 208.05 542.55 204.65 541.04C201.25 539.53 196.35 535.73 194.52 535.33C192.7 534.92 193.29 536.32 193.7 538.6Z" fill="none" stroke="#000" stroke-width="2.6" stroke-dasharray="10 9" stroke-dashoffset="0" stroke-linecap="butt" stroke-linejoin="round"/>
<path d="M374.4 544.2C375.91 545.58 384.73 543.92 390 543.7C395.27 543.48 400.17 543.43 406 542.9C411.83 542.37 418.38 541.38 425 540.5C431.62 539.62 438.87 538.42 445.7 537.6C452.53 536.78 458.95 536.27 466 535.6C473.05 534.93 481.17 534.28 488 533.6C494.83 532.92 500.83 532.28 507 531.5C513.17 530.72 519.17 529.9 525 528.9C530.83 527.9 536.28 526.7 542 525.5C547.72 524.3 553.63 522.9 559.3 521.7C564.97 520.5 570.27 519.4 576 518.3C581.73 517.2 588.98 516.15 593.7 515.1C598.42 514.05 600.42 512.68 604.3 512C608.18 511.32 612.6 511.27 617 511C621.4 510.73 625.53 510.77 630.7 510.4C635.87 510.03 642.28 509.42 648 508.8C653.72 508.18 661.33 506.5 665 506.7C668.67 506.9 668.23 509.25 670 510C671.77 510.75 671.93 511.1 675.6 511.2C679.27 511.3 686.27 510.82 692 510.6C697.73 510.38 704.83 510.1 710 509.9C715.17 509.7 718.6 509.63 723 509.4C727.4 509.17 732.23 508.98 736.4 508.5C740.57 508.02 744.48 507.38 748 506.5C751.52 505.62 754.67 503.95 757.5 503.2C760.33 502.45 763.23 502.87 765 502C766.77 501.13 767.77 499.67 768.1 498C768.43 496.33 766.18 493.5 767 492C767.82 490.5 771.27 490.65 773 489C774.73 487.35 776.82 484.1 777.4 482.1C777.98 480.1 777.17 478.53 776.5 477C775.83 475.47 775.15 474.82 773.4 472.9C771.65 470.98 768.65 467.72 766 465.5C763.35 463.28 760.67 461.55 757.5 459.6C754.33 457.65 750.52 455.55 747 453.8C743.48 452.05 740.4 450.52 736.4 449.1C732.4 447.68 727.4 446.4 723 445.3C718.6 444.2 714.33 443.35 710 442.5C705.67 441.65 701.42 440.95 697 440.2C692.58 439.45 687.33 438.67 683.5 438C679.67 437.33 677.08 436.78 674 436.2C670.92 435.62 666.96 434.54 665 434.5C663.04 434.46 664.31 435.59 662.23 435.95C660.16 436.31 655.77 436.37 652.55 436.65C649.33 436.93 646.13 437.23 642.93 437.61C639.72 437.99 636.53 438.43 633.33 438.93C630.12 439.44 626.93 440 623.72 440.63C620.52 441.26 617.31 441.98 614.1 442.72C610.9 443.47 607.68 444.27 604.47 445.11C601.25 445.96 598.03 446.85 594.81 447.77C591.6 448.7 588.37 449.67 585.15 450.66C581.93 451.66 578.7 452.68 575.47 453.73C572.25 454.79 569.02 455.87 565.8 456.97C562.57 458.08 559.35 459.21 556.12 460.37C552.89 461.54 549.67 462.73 546.44 463.95C543.22 465.17 540 466.42 536.77 467.71C533.55 469 530.32 470.32 527.1 471.67C523.88 473.02 520.65 474.41 517.43 475.83C514.2 477.25 510.98 478.7 507.75 480.19C504.52 481.67 501.3 483.19 498.07 484.73C494.84 486.26 491.6 487.83 488.37 489.41C485.14 490.99 481.9 492.6 478.66 494.2C475.42 495.81 472.18 497.43 468.94 499.04C465.7 500.65 462.45 502.27 459.2 503.86C455.95 505.46 452.7 507.05 449.45 508.61C446.2 510.16 442.94 511.7 439.68 513.2C436.42 514.7 433.16 516.18 429.9 517.6C426.64 519.03 423.38 520.42 420.11 521.76C416.85 523.1 413.58 524.39 410.31 525.64C407.04 526.88 403.77 528.07 400.5 529.22C397.23 530.36 393.96 531.45 390.69 532.49C387.43 533.53 383.64 533.49 380.93 535.44C378.21 537.4 372.89 542.82 374.4 544.2Z" fill="none" stroke="#000" stroke-width="2.6" stroke-dasharray="9.5 8.5" stroke-dashoffset="0" stroke-linecap="butt" stroke-linejoin="round"/>
</g>
<g stroke="#737373" stroke-width="1.05" fill="none"><rect x="92.5" y="428.07" width="735.75" height="245.2"/><line x1="190.6" y1="673.27" x2="190.6" y2="665.87"/><line x1="190.6" y1="428.07" x2="190.6" y2="435.47"/><line x1="288.7" y1="673.27" x2="288.7" y2="665.87"/><line x1="288.7" y1="428.07" x2="288.7" y2="435.47"/><line x1="386.8" y1="673.27" x2="386.8" y2="665.87"/><line x1="386.8" y1="428.07" x2="386.8" y2="435.47"/><line x1="484.9" y1="673.27" x2="484.9" y2="665.87"/><line x1="484.9" y1="428.07" x2="484.9" y2="435.47"/><line x1="583" y1="673.27" x2="583" y2="665.87"/><line x1="583" y1="428.07" x2="583" y2="435.47"/><line x1="681.1" y1="673.27" x2="681.1" y2="665.87"/><line x1="681.1" y1="428.07" x2="681.1" y2="435.47"/><line x1="779.2" y1="673.27" x2="779.2" y2="665.87"/><line x1="779.2" y1="428.07" x2="779.2" y2="435.47"/><line x1="92.5" y1="477.11" x2="99.9" y2="477.11"/><line x1="828.25" y1="477.11" x2="820.85" y2="477.11"/><line x1="92.5" y1="526.15" x2="99.9" y2="526.15"/><line x1="828.25" y1="526.15" x2="820.85" y2="526.15"/><line x1="92.5" y1="575.19" x2="99.9" y2="575.19"/><line x1="828.25" y1="575.19" x2="820.85" y2="575.19"/><line x1="92.5" y1="624.23" x2="99.9" y2="624.23"/><line x1="828.25" y1="624.23" x2="820.85" y2="624.23"/></g>
<g font-family="Liberation Sans, sans-serif" font-size="22.4" fill="#262626"><text x="190.6" y="699.67" text-anchor="middle">0</text><text x="288.7" y="699.67" text-anchor="middle">0.2</text><text x="386.8" y="699.67" text-anchor="middle">0.4</text><text x="484.9" y="699.67" text-anchor="middle">0.6</text><text x="583" y="699.67" text-anchor="middle">0.8</text><text x="681.1" y="699.67" text-anchor="middle">1</text><text x="779.2" y="699.67" text-anchor="middle">1.2</text><text x="85.3" y="435.77" text-anchor="end">0.2</text><text x="85.3" y="484.81" text-anchor="end">0.1</text><text x="85.3" y="533.85" text-anchor="end">0</text><text x="85.3" y="582.89" text-anchor="end">-0.1</text><text x="85.3" y="631.93" text-anchor="end">-0.2</text><text x="85.3" y="680.97" text-anchor="end">-0.3</text></g><g font-family="Liberation Sans, sans-serif" font-size="24.5" fill="#262626"><text x="460.38" y="727.67" text-anchor="middle">x/c [-]</text><text transform="translate(38 550.67) rotate(-90)" text-anchor="middle">y/c [-]</text></g>
<rect x="838.15" y="428.07" width="15.6" height="245.2" fill="url(#cbB)" stroke="#666" stroke-width="1.2"/><rect x="858.15" y="428.07" width="15.7" height="245.2" fill="url(#cbR)" stroke="#666" stroke-width="1.2"/><g stroke="#555" stroke-width="1.2"><line x1="873.85" y1="624.23" x2="871.35" y2="624.23"/><line x1="873.85" y1="575.19" x2="871.35" y2="575.19"/><line x1="873.85" y1="526.15" x2="871.35" y2="526.15"/><line x1="873.85" y1="477.11" x2="871.35" y2="477.11"/></g><g font-family="Liberation Sans, sans-serif" font-size="22.4" fill="#262626"><text x="880.05" y="680.97">0</text><text x="880.05" y="631.93">0.2</text><text x="880.05" y="582.89">0.4</text><text x="880.05" y="533.85">0.6</text><text x="880.05" y="484.81">0.8</text><text x="880.05" y="435.77">1</text></g>
<g font-family="Liberation Serif, serif" font-size="33.6" fill="#111"><text x="265" y="797.3">(c)</text><text x="311.3" y="797.3">Ma</text><text transform="translate(356 802.5) scale(1.12 1)" font-size="30">∞</text><text x="425.8" y="797.3">0.6,</text><text x="486.6" y="797.3">AoA</text><text x="611" y="797.3">10</text></g><g stroke="#111" stroke-width="1.5" fill="none"><line x1="393.6" y1="785.4" x2="416" y2="785.4"/><line x1="393.6" y1="792.4" x2="416" y2="792.4"/><line x1="552.6" y1="785.4" x2="575" y2="785.4"/><line x1="552.6" y1="792.4" x2="575" y2="792.4"/><line x1="587.8" y1="788.9" x2="608.6" y2="788.9"/><circle cx="651.6" cy="776.9" r="4.5" stroke-width="1.4"/></g>
<g clip-path="url(#clipd)">
<g filter="url(#bl26)" mask="url(#mk24)" fill="none" stroke="#000080" stroke-linecap="butt" stroke-linejoin="round"><path d="M1366.35 526.88C1367.89 526.31 1372.51 524.66 1375.6 523.48C1378.68 522.3 1381.77 521.07 1384.86 519.81C1387.95 518.54 1391.04 517.23 1394.12 515.89C1397.21 514.55 1400.3 513.16 1403.38 511.75C1406.47 510.34 1409.55 508.89 1412.64 507.42C1415.72 505.95 1418.8 504.45 1421.89 502.95C1424.97 501.44 1428.05 499.91 1431.13 498.38C1434.22 496.85 1437.3 495.31 1440.38 493.78C1443.46 492.24 1446.54 490.71 1449.61 489.19C1452.69 487.68 1455.77 486.17 1458.85 484.68C1461.93 483.2 1465 481.73 1468.08 480.3C1471.16 478.86 1474.23 477.44 1477.31 476.06C1480.38 474.67 1483.46 473.32 1486.53 471.99C1489.61 470.66 1492.68 469.37 1495.76 468.1C1498.84 466.84 1501.91 465.6 1504.99 464.39C1508.06 463.19 1511.14 462.01 1514.21 460.86C1517.29 459.71 1520.36 458.59 1523.44 457.49C1526.52 456.4 1529.59 455.33 1532.67 454.28C1535.74 453.23 1538.82 452.21 1541.89 451.22C1544.97 450.22 1548.05 449.25 1551.12 448.31C1554.2 447.36 1557.27 446.44 1560.34 445.56C1563.42 444.68 1566.49 443.83 1569.56 443.02C1572.64 442.22 1575.71 441.45 1578.78 440.73C1581.85 440.01 1584.92 439.32 1587.99 438.7C1591.06 438.08 1594.13 437.52 1597.2 437.01C1600.27 436.5 1603.33 436.06 1606.4 435.67C1609.47 435.28 1612.54 434.97 1615.61 434.68C1618.68 434.4 1621.76 434.18 1624.83 433.96C1627.91 433.73 1628.71 432.49 1634.07 433.33C1639.43 434.17 1649.01 436.64 1657 439C1664.99 441.36 1673.83 444.33 1682 447.5C1690.17 450.67 1698 454.5 1706 458C1714 461.5 1722.67 465.17 1730 468.5C1737.33 471.83 1746.67 476.42 1750 478" stroke-width="114" stroke-opacity="0.04"/><path d="M1366.35 526.88C1367.89 526.31 1372.51 524.66 1375.6 523.48C1378.68 522.3 1381.77 521.07 1384.86 519.81C1387.95 518.54 1391.04 517.23 1394.12 515.89C1397.21 514.55 1400.3 513.16 1403.38 511.75C1406.47 510.34 1409.55 508.89 1412.64 507.42C1415.72 505.95 1418.8 504.45 1421.89 502.95C1424.97 501.44 1428.05 499.91 1431.13 498.38C1434.22 496.85 1437.3 495.31 1440.38 493.78C1443.46 492.24 1446.54 490.71 1449.61 489.19C1452.69 487.68 1455.77 486.17 1458.85 484.68C1461.93 483.2 1465 481.73 1468.08 480.3C1471.16 478.86 1474.23 477.44 1477.31 476.06C1480.38 474.67 1483.46 473.32 1486.53 471.99C1489.61 470.66 1492.68 469.37 1495.76 468.1C1498.84 466.84 1501.91 465.6 1504.99 464.39C1508.06 463.19 1511.14 462.01 1514.21 460.86C1517.29 459.71 1520.36 458.59 1523.44 457.49C1526.52 456.4 1529.59 455.33 1532.67 454.28C1535.74 453.23 1538.82 452.21 1541.89 451.22C1544.97 450.22 1548.05 449.25 1551.12 448.31C1554.2 447.36 1557.27 446.44 1560.34 445.56C1563.42 444.68 1566.49 443.83 1569.56 443.02C1572.64 442.22 1575.71 441.45 1578.78 440.73C1581.85 440.01 1584.92 439.32 1587.99 438.7C1591.06 438.08 1594.13 437.52 1597.2 437.01C1600.27 436.5 1603.33 436.06 1606.4 435.67C1609.47 435.28 1612.54 434.97 1615.61 434.68C1618.68 434.4 1621.76 434.18 1624.83 433.96C1627.91 433.73 1628.71 432.49 1634.07 433.33C1639.43 434.17 1649.01 436.64 1657 439C1664.99 441.36 1673.83 444.33 1682 447.5C1690.17 450.67 1698 454.5 1706 458C1714 461.5 1722.67 465.17 1730 468.5C1737.33 471.83 1746.67 476.42 1750 478" stroke-width="102" stroke-opacity="0.06"/><path d="M1366.35 526.88C1367.89 526.31 1372.51 524.66 1375.6 523.48C1378.68 522.3 1381.77 521.07 1384.86 519.81C1387.95 518.54 1391.04 517.23 1394.12 515.89C1397.21 514.55 1400.3 513.16 1403.38 511.75C1406.47 510.34 1409.55 508.89 1412.64 507.42C1415.72 505.95 1418.8 504.45 1421.89 502.95C1424.97 501.44 1428.05 499.91 1431.13 498.38C1434.22 496.85 1437.3 495.31 1440.38 493.78C1443.46 492.24 1446.54 490.71 1449.61 489.19C1452.69 487.68 1455.77 486.17 1458.85 484.68C1461.93 483.2 1465 481.73 1468.08 480.3C1471.16 478.86 1474.23 477.44 1477.31 476.06C1480.38 474.67 1483.46 473.32 1486.53 471.99C1489.61 470.66 1492.68 469.37 1495.76 468.1C1498.84 466.84 1501.91 465.6 1504.99 464.39C1508.06 463.19 1511.14 462.01 1514.21 460.86C1517.29 459.71 1520.36 458.59 1523.44 457.49C1526.52 456.4 1529.59 455.33 1532.67 454.28C1535.74 453.23 1538.82 452.21 1541.89 451.22C1544.97 450.22 1548.05 449.25 1551.12 448.31C1554.2 447.36 1557.27 446.44 1560.34 445.56C1563.42 444.68 1566.49 443.83 1569.56 443.02C1572.64 442.22 1575.71 441.45 1578.78 440.73C1581.85 440.01 1584.92 439.32 1587.99 438.7C1591.06 438.08 1594.13 437.52 1597.2 437.01C1600.27 436.5 1603.33 436.06 1606.4 435.67C1609.47 435.28 1612.54 434.97 1615.61 434.68C1618.68 434.4 1621.76 434.18 1624.83 433.96C1627.91 433.73 1628.71 432.49 1634.07 433.33C1639.43 434.17 1649.01 436.64 1657 439C1664.99 441.36 1673.83 444.33 1682 447.5C1690.17 450.67 1698 454.5 1706 458C1714 461.5 1722.67 465.17 1730 468.5C1737.33 471.83 1746.67 476.42 1750 478" stroke-width="90" stroke-opacity="0.11"/><path d="M1366.35 526.88C1367.89 526.31 1372.51 524.66 1375.6 523.48C1378.68 522.3 1381.77 521.07 1384.86 519.81C1387.95 518.54 1391.04 517.23 1394.12 515.89C1397.21 514.55 1400.3 513.16 1403.38 511.75C1406.47 510.34 1409.55 508.89 1412.64 507.42C1415.72 505.95 1418.8 504.45 1421.89 502.95C1424.97 501.44 1428.05 499.91 1431.13 498.38C1434.22 496.85 1437.3 495.31 1440.38 493.78C1443.46 492.24 1446.54 490.71 1449.61 489.19C1452.69 487.68 1455.77 486.17 1458.85 484.68C1461.93 483.2 1465 481.73 1468.08 480.3C1471.16 478.86 1474.23 477.44 1477.31 476.06C1480.38 474.67 1483.46 473.32 1486.53 471.99C1489.61 470.66 1492.68 469.37 1495.76 468.1C1498.84 466.84 1501.91 465.6 1504.99 464.39C1508.06 463.19 1511.14 462.01 1514.21 460.86C1517.29 459.71 1520.36 458.59 1523.44 457.49C1526.52 456.4 1529.59 455.33 1532.67 454.28C1535.74 453.23 1538.82 452.21 1541.89 451.22C1544.97 450.22 1548.05 449.25 1551.12 448.31C1554.2 447.36 1557.27 446.44 1560.34 445.56C1563.42 444.68 1566.49 443.83 1569.56 443.02C1572.64 442.22 1575.71 441.45 1578.78 440.73C1581.85 440.01 1584.92 439.32 1587.99 438.7C1591.06 438.08 1594.13 437.52 1597.2 437.01C1600.27 436.5 1603.33 436.06 1606.4 435.67C1609.47 435.28 1612.54 434.97 1615.61 434.68C1618.68 434.4 1621.76 434.18 1624.83 433.96C1627.91 433.73 1628.71 432.49 1634.07 433.33C1639.43 434.17 1649.01 436.64 1657 439C1664.99 441.36 1673.83 444.33 1682 447.5C1690.17 450.67 1698 454.5 1706 458C1714 461.5 1722.67 465.17 1730 468.5C1737.33 471.83 1746.67 476.42 1750 478" stroke-width="78" stroke-opacity="0.19"/><path d="M1366.35 526.88C1367.89 526.31 1372.51 524.66 1375.6 523.48C1378.68 522.3 1381.77 521.07 1384.86 519.81C1387.95 518.54 1391.04 517.23 1394.12 515.89C1397.21 514.55 1400.3 513.16 1403.38 511.75C1406.47 510.34 1409.55 508.89 1412.64 507.42C1415.72 505.95 1418.8 504.45 1421.89 502.95C1424.97 501.44 1428.05 499.91 1431.13 498.38C1434.22 496.85 1437.3 495.31 1440.38 493.78C1443.46 492.24 1446.54 490.71 1449.61 489.19C1452.69 487.68 1455.77 486.17 1458.85 484.68C1461.93 483.2 1465 481.73 1468.08 480.3C1471.16 478.86 1474.23 477.44 1477.31 476.06C1480.38 474.67 1483.46 473.32 1486.53 471.99C1489.61 470.66 1492.68 469.37 1495.76 468.1C1498.84 466.84 1501.91 465.6 1504.99 464.39C1508.06 463.19 1511.14 462.01 1514.21 460.86C1517.29 459.71 1520.36 458.59 1523.44 457.49C1526.52 456.4 1529.59 455.33 1532.67 454.28C1535.74 453.23 1538.82 452.21 1541.89 451.22C1544.97 450.22 1548.05 449.25 1551.12 448.31C1554.2 447.36 1557.27 446.44 1560.34 445.56C1563.42 444.68 1566.49 443.83 1569.56 443.02C1572.64 442.22 1575.71 441.45 1578.78 440.73C1581.85 440.01 1584.92 439.32 1587.99 438.7C1591.06 438.08 1594.13 437.52 1597.2 437.01C1600.27 436.5 1603.33 436.06 1606.4 435.67C1609.47 435.28 1612.54 434.97 1615.61 434.68C1618.68 434.4 1621.76 434.18 1624.83 433.96C1627.91 433.73 1628.71 432.49 1634.07 433.33C1639.43 434.17 1649.01 436.64 1657 439C1664.99 441.36 1673.83 444.33 1682 447.5C1690.17 450.67 1698 454.5 1706 458C1714 461.5 1722.67 465.17 1730 468.5C1737.33 471.83 1746.67 476.42 1750 478" stroke-width="68" stroke-opacity="0.26"/><path d="M1366.35 526.88C1367.89 526.31 1372.51 524.66 1375.6 523.48C1378.68 522.3 1381.77 521.07 1384.86 519.81C1387.95 518.54 1391.04 517.23 1394.12 515.89C1397.21 514.55 1400.3 513.16 1403.38 511.75C1406.47 510.34 1409.55 508.89 1412.64 507.42C1415.72 505.95 1418.8 504.45 1421.89 502.95C1424.97 501.44 1428.05 499.91 1431.13 498.38C1434.22 496.85 1437.3 495.31 1440.38 493.78C1443.46 492.24 1446.54 490.71 1449.61 489.19C1452.69 487.68 1455.77 486.17 1458.85 484.68C1461.93 483.2 1465 481.73 1468.08 480.3C1471.16 478.86 1474.23 477.44 1477.31 476.06C1480.38 474.67 1483.46 473.32 1486.53 471.99C1489.61 470.66 1492.68 469.37 1495.76 468.1C1498.84 466.84 1501.91 465.6 1504.99 464.39C1508.06 463.19 1511.14 462.01 1514.21 460.86C1517.29 459.71 1520.36 458.59 1523.44 457.49C1526.52 456.4 1529.59 455.33 1532.67 454.28C1535.74 453.23 1538.82 452.21 1541.89 451.22C1544.97 450.22 1548.05 449.25 1551.12 448.31C1554.2 447.36 1557.27 446.44 1560.34 445.56C1563.42 444.68 1566.49 443.83 1569.56 443.02C1572.64 442.22 1575.71 441.45 1578.78 440.73C1581.85 440.01 1584.92 439.32 1587.99 438.7C1591.06 438.08 1594.13 437.52 1597.2 437.01C1600.27 436.5 1603.33 436.06 1606.4 435.67C1609.47 435.28 1612.54 434.97 1615.61 434.68C1618.68 434.4 1621.76 434.18 1624.83 433.96C1627.91 433.73 1628.71 432.49 1634.07 433.33C1639.43 434.17 1649.01 436.64 1657 439C1664.99 441.36 1673.83 444.33 1682 447.5C1690.17 450.67 1698 454.5 1706 458C1714 461.5 1722.67 465.17 1730 468.5C1737.33 471.83 1746.67 476.42 1750 478" stroke-width="58" stroke-opacity="0.42"/><path d="M1366.35 526.88C1367.89 526.31 1372.51 524.66 1375.6 523.48C1378.68 522.3 1381.77 521.07 1384.86 519.81C1387.95 518.54 1391.04 517.23 1394.12 515.89C1397.21 514.55 1400.3 513.16 1403.38 511.75C1406.47 510.34 1409.55 508.89 1412.64 507.42C1415.72 505.95 1418.8 504.45 1421.89 502.95C1424.97 501.44 1428.05 499.91 1431.13 498.38C1434.22 496.85 1437.3 495.31 1440.38 493.78C1443.46 492.24 1446.54 490.71 1449.61 489.19C1452.69 487.68 1455.77 486.17 1458.85 484.68C1461.93 483.2 1465 481.73 1468.08 480.3C1471.16 478.86 1474.23 477.44 1477.31 476.06C1480.38 474.67 1483.46 473.32 1486.53 471.99C1489.61 470.66 1492.68 469.37 1495.76 468.1C1498.84 466.84 1501.91 465.6 1504.99 464.39C1508.06 463.19 1511.14 462.01 1514.21 460.86C1517.29 459.71 1520.36 458.59 1523.44 457.49C1526.52 456.4 1529.59 455.33 1532.67 454.28C1535.74 453.23 1538.82 452.21 1541.89 451.22C1544.97 450.22 1548.05 449.25 1551.12 448.31C1554.2 447.36 1557.27 446.44 1560.34 445.56C1563.42 444.68 1566.49 443.83 1569.56 443.02C1572.64 442.22 1575.71 441.45 1578.78 440.73C1581.85 440.01 1584.92 439.32 1587.99 438.7C1591.06 438.08 1594.13 437.52 1597.2 437.01C1600.27 436.5 1603.33 436.06 1606.4 435.67C1609.47 435.28 1612.54 434.97 1615.61 434.68C1618.68 434.4 1621.76 434.18 1624.83 433.96C1627.91 433.73 1628.71 432.49 1634.07 433.33C1639.43 434.17 1649.01 436.64 1657 439C1664.99 441.36 1673.83 444.33 1682 447.5C1690.17 450.67 1698 454.5 1706 458C1714 461.5 1722.67 465.17 1730 468.5C1737.33 471.83 1746.67 476.42 1750 478" stroke-width="50" stroke-opacity="0.64"/><path d="M1366.35 526.88C1367.89 526.31 1372.51 524.66 1375.6 523.48C1378.68 522.3 1381.77 521.07 1384.86 519.81C1387.95 518.54 1391.04 517.23 1394.12 515.89C1397.21 514.55 1400.3 513.16 1403.38 511.75C1406.47 510.34 1409.55 508.89 1412.64 507.42C1415.72 505.95 1418.8 504.45 1421.89 502.95C1424.97 501.44 1428.05 499.91 1431.13 498.38C1434.22 496.85 1437.3 495.31 1440.38 493.78C1443.46 492.24 1446.54 490.71 1449.61 489.19C1452.69 487.68 1455.77 486.17 1458.85 484.68C1461.93 483.2 1465 481.73 1468.08 480.3C1471.16 478.86 1474.23 477.44 1477.31 476.06C1480.38 474.67 1483.46 473.32 1486.53 471.99C1489.61 470.66 1492.68 469.37 1495.76 468.1C1498.84 466.84 1501.91 465.6 1504.99 464.39C1508.06 463.19 1511.14 462.01 1514.21 460.86C1517.29 459.71 1520.36 458.59 1523.44 457.49C1526.52 456.4 1529.59 455.33 1532.67 454.28C1535.74 453.23 1538.82 452.21 1541.89 451.22C1544.97 450.22 1548.05 449.25 1551.12 448.31C1554.2 447.36 1557.27 446.44 1560.34 445.56C1563.42 444.68 1566.49 443.83 1569.56 443.02C1572.64 442.22 1575.71 441.45 1578.78 440.73C1581.85 440.01 1584.92 439.32 1587.99 438.7C1591.06 438.08 1594.13 437.52 1597.2 437.01C1600.27 436.5 1603.33 436.06 1606.4 435.67C1609.47 435.28 1612.54 434.97 1615.61 434.68C1618.68 434.4 1621.76 434.18 1624.83 433.96C1627.91 433.73 1628.71 432.49 1634.07 433.33C1639.43 434.17 1649.01 436.64 1657 439C1664.99 441.36 1673.83 444.33 1682 447.5C1690.17 450.67 1698 454.5 1706 458C1714 461.5 1722.67 465.17 1730 468.5C1737.33 471.83 1746.67 476.42 1750 478" stroke-width="42" stroke-opacity="1"/></g>
<path d="M1531.7 401.79L1531.7 431.79L1540.85 431.91L1549.67 432.01L1558.16 432.1L1566.28 432.16L1574.04 432.2L1581.4 432.22L1588.36 432.22L1594.9 432.2L1601.01 432.17L1606.68 432.13L1611.9 432.08L1616.65 432.05L1620.92 432.02L1624.72 432L1628.03 432L1630.84 432.01L1633.16 432.02L1634.96 432.04L1636.25 432.06L1637.03 432.08L1637.29 432.08L1646.29 431.88L1646.29 402.08Z" fill="#fff"/>
<ellipse cx="1173.5" cy="543" rx="8" ry="4.5" fill="url(#rg27)"/>
<path d="M1366.69 527.82C1368.21 527.26 1372.77 525.63 1375.82 524.46C1378.86 523.3 1381.92 522.09 1384.96 520.85C1388.01 519.6 1391.06 518.31 1394.11 516.99C1397.15 515.66 1400.2 514.3 1403.24 512.91C1406.29 511.52 1409.33 510.1 1412.37 508.65C1415.42 507.21 1418.46 505.74 1421.5 504.25C1424.54 502.77 1427.58 501.26 1430.61 499.76C1433.65 498.25 1436.68 496.73 1439.72 495.22C1442.75 493.71 1445.78 492.2 1448.82 490.7C1451.85 489.21 1454.88 487.72 1457.9 486.26C1460.93 484.79 1463.96 483.34 1466.99 481.92C1470.02 480.5 1473.04 479.09 1476.07 477.72C1479.09 476.35 1482.12 475 1485.14 473.69C1488.17 472.37 1491.19 471.08 1494.22 469.82C1497.24 468.57 1500.26 467.34 1503.29 466.14C1506.31 464.94 1509.34 463.77 1512.36 462.62C1515.39 461.48 1518.41 460.36 1521.44 459.27C1524.46 458.18 1527.49 457.12 1530.51 456.07C1533.54 455.03 1536.56 454.02 1539.59 453.02C1542.61 452.03 1545.64 451.06 1548.66 450.12C1551.69 449.18 1554.71 448.26 1557.73 447.37C1560.76 446.49 1563.78 445.62 1566.8 444.8C1569.82 443.98 1572.84 443.18 1575.86 442.44C1578.87 441.7 1581.89 441.01 1584.9 440.37C1587.91 439.73 1590.93 439.13 1593.94 438.59C1596.95 438.05 1599.96 437.56 1602.97 437.14C1605.98 436.71 1608.99 436.35 1612 436.03C1615.02 435.72 1618.03 435.47 1621.05 435.23C1624.08 434.99 1628.62 434.71 1630.14 434.61" fill="none" stroke="#fff" stroke-width="2.2"/>
<path d="M1156.3 524.07C1156.14 523.24 1156.07 522.39 1156.08 521.53C1156.08 520.68 1156.17 519.8 1156.35 518.91C1156.52 518.02 1156.78 517.12 1157.12 516.21C1157.46 515.29 1157.88 514.36 1158.39 513.41C1158.89 512.46 1159.48 511.5 1160.14 510.52C1160.81 509.54 1161.56 508.54 1162.38 507.52C1163.21 506.5 1164.11 505.46 1165.09 504.39C1166.07 503.33 1167.13 502.24 1168.27 501.13C1169.4 500.01 1170.61 498.87 1171.9 497.7C1173.18 496.53 1174.54 495.33 1175.97 494.1C1177.39 492.87 1178.9 491.62 1180.47 490.33C1182.04 489.05 1183.68 487.74 1185.39 486.41C1187.1 485.08 1188.88 483.72 1190.73 482.35C1192.58 480.98 1194.5 479.59 1196.48 478.2C1198.46 476.81 1200.52 475.4 1202.64 474C1204.76 472.61 1206.94 471.2 1209.2 469.82C1211.45 468.44 1213.77 467.06 1216.16 465.71C1218.55 464.36 1221 463.03 1223.51 461.74C1226.03 460.44 1228.61 459.17 1231.26 457.95C1233.9 456.73 1236.61 455.54 1239.38 454.4C1242.15 453.26 1244.99 452.16 1247.87 451.11C1250.76 450.06 1253.72 449.06 1256.72 448.11C1259.72 447.15 1262.79 446.25 1265.9 445.39C1269.01 444.54 1272.18 443.73 1275.39 442.97C1278.6 442.21 1281.87 441.49 1285.17 440.82C1288.48 440.15 1291.83 439.52 1295.22 438.93C1298.61 438.33 1302.04 437.78 1305.51 437.27C1308.97 436.75 1312.48 436.27 1316.01 435.82C1319.54 435.37 1323.11 434.96 1326.7 434.57C1330.29 434.19 1333.91 433.83 1337.55 433.51C1341.19 433.18 1344.86 432.88 1348.54 432.6C1352.22 432.33 1355.93 432.09 1359.64 431.86C1363.36 431.64 1367.09 431.44 1370.83 431.27C1374.57 431.1 1378.32 430.95 1382.08 430.82C1385.84 430.69 1389.61 430.59 1393.37 430.5C1397.13 430.42 1400.91 430.35 1404.67 430.31C1408.43 430.26 1412.2 430.23 1415.95 430.21C1419.71 430.2 1423.46 430.2 1427.2 430.21C1430.93 430.22 1434.66 430.25 1438.37 430.28C1442.08 430.32 1445.78 430.36 1449.45 430.41C1453.13 430.46 1456.78 430.51 1460.41 430.57C1464.04 430.63 1467.65 430.69 1471.23 430.75C1474.8 430.82 1478.35 430.88 1481.87 430.95C1485.38 431.01 1488.87 431.08 1492.31 431.14C1495.76 431.2 1499.17 431.26 1502.54 431.32C1505.91 431.38 1509.25 431.44 1512.53 431.49C1515.82 431.55 1519.06 431.6 1522.26 431.65C1525.45 431.7 1528.61 431.75 1531.7 431.79C1534.8 431.83 1537.85 431.87 1540.85 431.91C1543.84 431.95 1546.79 431.98 1549.67 432.01C1552.56 432.05 1555.39 432.07 1558.16 432.1C1560.93 432.12 1563.64 432.14 1566.28 432.16C1568.93 432.18 1571.52 432.19 1574.04 432.2C1576.56 432.21 1579.02 432.22 1581.4 432.22C1583.79 432.22 1586.11 432.22 1588.36 432.22C1590.61 432.21 1592.8 432.21 1594.9 432.2C1597.01 432.19 1599.05 432.18 1601.01 432.17C1602.98 432.15 1604.87 432.14 1606.68 432.13C1608.49 432.11 1610.23 432.1 1611.9 432.08C1613.56 432.07 1615.14 432.06 1616.65 432.05C1618.15 432.04 1619.58 432.03 1620.92 432.02C1622.27 432.01 1623.54 432 1624.72 432C1625.91 432 1627.01 432 1628.03 432C1629.05 432 1629.99 432 1630.84 432.01C1631.7 432.01 1632.47 432.02 1633.16 432.02C1633.84 432.03 1634.45 432.04 1634.96 432.04C1635.48 432.05 1635.91 432.06 1636.25 432.06C1636.6 432.07 1636.86 432.07 1637.03 432.08C1637.2 432.08 1637.25 432.08 1637.29 432.08C1637.25 432.08 1637.21 432.09 1637.04 432.1C1636.87 432.12 1636.61 432.14 1636.27 432.16C1635.93 432.19 1635.51 432.22 1635 432.26C1634.5 432.3 1633.9 432.34 1633.23 432.39C1632.55 432.44 1631.79 432.49 1630.95 432.55C1630.11 432.6 1629.18 432.66 1628.17 432.73C1627.16 432.8 1626.07 432.87 1624.9 432.95C1623.73 433.03 1622.48 433.12 1621.15 433.22C1619.82 433.32 1618.42 433.43 1616.93 433.55C1615.45 433.68 1613.89 433.82 1612.26 433.99C1610.63 434.16 1608.92 434.35 1607.15 434.56C1605.37 434.78 1603.53 435.02 1601.61 435.3C1599.7 435.58 1597.72 435.89 1595.68 436.24C1593.63 436.59 1591.52 436.97 1589.35 437.4C1587.18 437.82 1584.95 438.29 1582.66 438.79C1580.37 439.3 1578.02 439.85 1575.61 440.44C1573.21 441.03 1570.75 441.66 1568.23 442.33C1565.71 443 1563.14 443.71 1560.52 444.46C1557.9 445.21 1555.23 446 1552.51 446.83C1549.78 447.65 1547.01 448.52 1544.2 449.41C1541.38 450.31 1538.52 451.25 1535.61 452.22C1532.71 453.19 1529.76 454.19 1526.77 455.24C1523.79 456.28 1520.76 457.36 1517.7 458.49C1514.63 459.61 1511.53 460.77 1508.41 461.97C1505.28 463.17 1502.12 464.42 1498.93 465.71C1495.74 467 1492.52 468.33 1489.28 469.7C1486.04 471.08 1482.78 472.5 1479.49 473.96C1476.21 475.43 1472.9 476.94 1469.58 478.48C1466.26 480.02 1462.91 481.61 1459.56 483.22C1456.2 484.84 1452.83 486.49 1449.45 488.16C1446.06 489.82 1442.66 491.52 1439.25 493.22C1435.84 494.91 1432.42 496.63 1428.99 498.33C1425.55 500.03 1422.11 501.74 1418.66 503.42C1415.21 505.1 1411.74 506.77 1408.27 508.4C1404.8 510.03 1401.32 511.64 1397.84 513.19C1394.36 514.74 1390.86 516.26 1387.37 517.72C1383.88 519.18 1380.37 520.59 1376.87 521.94C1373.37 523.29 1369.87 524.59 1366.37 525.82C1362.87 527.05 1359.37 528.22 1355.88 529.33C1352.39 530.45 1348.9 531.5 1345.43 532.49C1341.96 533.49 1338.49 534.42 1335.04 535.31C1331.59 536.19 1328.15 537.02 1324.74 537.8C1321.33 538.58 1317.93 539.31 1314.56 540C1311.19 540.69 1307.83 541.33 1304.52 541.93C1301.2 542.53 1297.9 543.09 1294.64 543.6C1291.38 544.12 1288.15 544.6 1284.96 545.03C1281.77 545.47 1278.61 545.86 1275.49 546.21C1272.37 546.57 1269.29 546.88 1266.25 547.15C1263.21 547.42 1260.21 547.64 1257.26 547.83C1254.31 548.01 1251.39 548.15 1248.53 548.24C1245.67 548.34 1242.86 548.39 1240.1 548.4C1237.33 548.41 1234.62 548.38 1231.96 548.3C1229.3 548.23 1226.7 548.12 1224.15 547.97C1221.6 547.82 1219.11 547.63 1216.68 547.42C1214.26 547.21 1211.89 546.96 1209.58 546.68C1207.28 546.41 1205.04 546.11 1202.87 545.79C1200.7 545.48 1198.59 545.13 1196.56 544.77C1194.52 544.42 1192.56 544.04 1190.67 543.65C1188.78 543.26 1186.96 542.86 1185.21 542.44C1183.47 542.02 1181.8 541.59 1180.21 541.14C1178.61 540.69 1177.1 540.23 1175.66 539.75C1174.22 539.27 1172.86 538.78 1171.57 538.26C1170.29 537.75 1169.08 537.21 1167.95 536.65C1166.83 536.1 1165.78 535.52 1164.81 534.92C1163.84 534.31 1162.95 533.68 1162.14 533.03C1161.33 532.38 1160.6 531.7 1159.95 531C1159.3 530.29 1158.73 529.57 1158.24 528.82C1157.76 528.07 1157.35 527.29 1157.03 526.5C1156.7 525.71 1156.46 524.89 1156.3 524.07Z" fill="#808080" stroke="#0a0a0a" stroke-width="1.7" stroke-linejoin="round"/>
<g stroke="#000" stroke-opacity="0.085" stroke-width="1.2"><line x1="1156.4" y1="428.07" x2="1156.4" y2="673.27"/><line x1="1254.5" y1="428.07" x2="1254.5" y2="673.27"/><line x1="1352.6" y1="428.07" x2="1352.6" y2="673.27"/><line x1="1450.7" y1="428.07" x2="1450.7" y2="673.27"/><line x1="1548.8" y1="428.07" x2="1548.8" y2="673.27"/><line x1="1646.9" y1="428.07" x2="1646.9" y2="673.27"/><line x1="1745" y1="428.07" x2="1745" y2="673.27"/><line x1="1058.3" y1="477.11" x2="1794.05" y2="477.11"/><line x1="1058.3" y1="526.15" x2="1794.05" y2="526.15"/><line x1="1058.3" y1="575.19" x2="1794.05" y2="575.19"/><line x1="1058.3" y1="624.23" x2="1794.05" y2="624.23"/></g>
<path d="M1354.2 533.6C1354.69 533.95 1361.82 532.83 1366 532.4C1370.18 531.97 1373.8 531.57 1379.3 531C1384.8 530.43 1392.4 529.67 1399 529C1405.6 528.33 1412.23 527.67 1418.9 527C1425.57 526.33 1432.38 525.65 1439 525C1445.62 524.35 1452.1 523.83 1458.6 523.1C1465.1 522.37 1471.4 521.48 1478 520.6C1484.6 519.72 1491.53 518.78 1498.2 517.8C1504.87 516.82 1511.4 515.8 1518 514.7C1524.6 513.6 1531.13 512.53 1537.8 511.2C1544.47 509.87 1551.38 508.25 1558 506.7C1564.62 505.15 1571.33 503.27 1577.5 501.9C1583.67 500.53 1589.28 499.47 1595 498.5C1600.72 497.53 1606.3 496.55 1611.8 496.1C1617.3 495.65 1622.7 495.8 1628 495.8C1633.3 495.8 1638.77 495.93 1643.6 496.1C1648.43 496.27 1652.6 496.62 1657 496.8C1661.4 496.98 1665 497.2 1670 497.2C1675 497.2 1681.28 497.12 1687 496.8C1692.72 496.48 1699.47 495.97 1704.3 495.3C1709.13 494.63 1712.47 493.82 1716 492.8C1719.53 491.78 1722.92 490.33 1725.5 489.2C1728.08 488.07 1729.75 487.18 1731.5 486C1733.25 484.82 1734.5 483.93 1736 482.1C1737.5 480.27 1739.38 477.42 1740.5 475C1741.62 472.58 1742.87 469.93 1742.7 467.6C1742.53 465.27 1741.05 462.98 1739.5 461C1737.95 459.02 1736.07 457.45 1733.4 455.7C1730.73 453.95 1727.02 452.05 1723.5 450.5C1719.98 448.95 1716.55 447.7 1712.3 446.4C1708.05 445.1 1702.85 443.8 1698 442.7C1693.15 441.6 1687.87 440.68 1683.2 439.8C1678.53 438.92 1674.4 438.15 1670 437.4C1665.6 436.65 1660.8 435.9 1656.8 435.3C1652.8 434.7 1649.53 434.23 1646 433.8C1642.47 433.37 1637.9 432.39 1635.6 432.7C1633.3 433.01 1634.33 435.07 1632.22 435.67C1630.11 436.27 1626.02 436.06 1622.93 436.3C1619.85 436.53 1616.77 436.76 1613.7 437.07C1610.63 437.38 1607.56 437.73 1604.5 438.15C1601.43 438.56 1598.37 439.03 1595.31 439.56C1592.24 440.09 1589.18 440.7 1586.11 441.34C1583.04 441.99 1579.96 442.68 1576.89 443.43C1573.82 444.17 1570.74 444.98 1567.66 445.81C1564.58 446.64 1561.5 447.52 1558.42 448.42C1555.33 449.32 1552.24 450.26 1549.16 451.22C1546.07 452.18 1542.98 453.17 1539.89 454.19C1536.81 455.2 1533.72 456.24 1530.63 457.3C1527.54 458.37 1524.45 459.46 1521.36 460.57C1518.28 461.69 1515.19 462.83 1512.1 464C1509.01 465.18 1505.93 466.37 1502.84 467.6C1499.75 468.84 1496.67 470.1 1493.58 471.39C1490.49 472.68 1487.41 474 1484.32 475.35C1481.23 476.71 1478.14 478.09 1475.05 479.5C1471.96 480.91 1468.87 482.36 1465.78 483.82C1462.69 485.28 1459.6 486.77 1456.5 488.28C1453.41 489.78 1450.31 491.31 1447.21 492.84C1444.11 494.37 1441.01 495.92 1437.91 497.46C1434.8 499.01 1431.7 500.56 1428.59 502.1C1425.48 503.63 1422.37 505.17 1419.26 506.68C1416.15 508.19 1413.03 509.7 1409.91 511.16C1406.79 512.63 1403.67 514.07 1400.55 515.47C1397.43 516.87 1394.3 518.24 1391.18 519.56C1388.05 520.88 1384.93 522.17 1381.8 523.41C1378.67 524.65 1375.54 525.85 1372.41 527C1369.29 528.15 1366.1 529.2 1363.07 530.3C1360.03 531.4 1353.71 533.25 1354.2 533.6Z" fill="none" stroke="#000" stroke-width="2.6" stroke-dasharray="10 8.5" stroke-dashoffset="0" stroke-linecap="butt" stroke-linejoin="round"/>
<path d="M1161 537.2L1164.5 539.2L1168.3 541.8" fill="none" stroke="#000" stroke-width="3.2" stroke-linecap="round"/>
<path d="M1162.5 536.8L1167 537.6" fill="none" stroke="#000" stroke-width="2" stroke-linecap="round"/>
<path d="M1178.6 544.6L1181.6 543.6L1183 541.8" fill="none" stroke="#000" stroke-width="2.6" stroke-linecap="round" stroke-linejoin="round"/>
<rect x="1178.4" y="568.8" width="156.8" height="85.8" fill="#fff"/>
<g clip-path="url(#insclip)"><rect x="1170" y="560" width="180" height="110" fill="url(#lg28)" mask="url(#mk30)"/></g>
<g clip-path="url(#insclip)"><path d="M1196 565C1197.17 565.95 1199.4 568.18 1203 570.7C1206.6 573.22 1211.92 576.92 1217.6 580.1C1223.28 583.28 1230.62 586.88 1237.1 589.8C1243.58 592.72 1250.02 595.3 1256.5 597.6C1262.98 599.9 1269.5 601.72 1276 603.6C1282.5 605.48 1289.02 607.27 1295.5 608.9C1301.98 610.53 1308.58 612.03 1314.9 613.4C1321.22 614.77 1328.88 616.23 1333.4 617.1C1337.92 617.97 1340.57 618.35 1342 618.6L1342 560L1196 560Z" fill="#808080"/><path d="M1196 565C1197.17 565.95 1199.4 568.18 1203 570.7C1206.6 573.22 1211.92 576.92 1217.6 580.1C1223.28 583.28 1230.62 586.88 1237.1 589.8C1243.58 592.72 1250.02 595.3 1256.5 597.6C1262.98 599.9 1269.5 601.72 1276 603.6C1282.5 605.48 1289.02 607.27 1295.5 608.9C1301.98 610.53 1308.58 612.03 1314.9 613.4C1321.22 614.77 1328.88 616.23 1333.4 617.1C1337.92 617.97 1340.57 618.35 1342 618.6" fill="none" stroke="#222" stroke-width="1.1"/></g>
<path d="M1188.4 593.7C1188.03 592.68 1190.7 592.15 1192 591.5C1193.3 590.85 1194.78 590.25 1196.2 589.8C1197.62 589.35 1199.05 589.03 1200.5 588.8C1201.95 588.57 1203.57 587.87 1204.9 588.4C1206.23 588.93 1207.2 590.63 1208.5 592C1209.8 593.37 1210.95 595.98 1212.7 596.6C1214.45 597.22 1216.57 595.95 1219 595.7C1221.43 595.45 1224.3 595.27 1227.3 595.1C1230.3 594.93 1233.75 594.77 1237 594.7C1240.25 594.63 1244.55 594.07 1246.8 594.7C1249.05 595.33 1249.2 597.2 1250.5 598.5C1251.8 599.8 1252.35 601.87 1254.6 602.5C1256.85 603.13 1260.77 602.4 1264 602.3C1267.23 602.2 1271.33 601.7 1274 601.9C1276.67 602.1 1278.05 602.85 1280 603.5C1281.95 604.15 1284.32 604.97 1285.7 605.8C1287.08 606.63 1287.48 607.67 1288.3 608.5C1289.12 609.33 1288.98 610.28 1290.6 610.8C1292.22 611.32 1295.57 611.37 1298 611.6C1300.43 611.83 1302.78 611.88 1305.2 612.2C1307.62 612.52 1310.07 613.02 1312.5 613.5C1314.93 613.98 1319.3 614.18 1319.8 615.1C1320.3 616.02 1316.97 617.7 1315.5 619C1314.03 620.3 1312.5 621.57 1311 622.9C1309.5 624.23 1308.12 625.7 1306.5 627C1304.88 628.3 1303.13 629.7 1301.3 630.7C1299.47 631.7 1297.45 632.42 1295.5 633C1293.55 633.58 1291.68 633.87 1289.6 634.2C1287.52 634.53 1285.27 634.87 1283 635C1280.73 635.13 1278.33 635.2 1276 635C1273.67 634.8 1271.27 634.37 1269 633.8C1266.73 633.23 1264.82 632.32 1262.4 631.6C1259.98 630.88 1257.1 630.3 1254.5 629.5C1251.9 628.7 1249.72 628.1 1246.8 626.8C1243.88 625.5 1240.25 623.48 1237 621.7C1233.75 619.92 1230.55 617.92 1227.3 616.1C1224.05 614.28 1220.73 612.58 1217.5 610.8C1214.27 609.02 1210.65 606.95 1207.9 605.4C1205.15 603.85 1203.28 602.8 1201 601.5C1198.72 600.2 1196.3 598.9 1194.2 597.6C1192.1 596.3 1188.77 594.72 1188.4 593.7Z" fill="none" stroke="#333" stroke-width="1" stroke-dasharray="3 2.2"/>
<g fill="none" stroke="#c00000" stroke-width="3.5" stroke-linejoin="miter">
<rect x="1156.05" y="531.75" width="33" height="18"/>
<rect x="1178.4" y="568.8" width="156.8" height="85.8"/>
<path d="M1155.5 550.6L1177.9 568.2" stroke-width="3.4"/>
<path d="M1189.5 550.0L1335.6 568.0" stroke-width="3.4"/>
</g>
</g>
<g stroke="#737373" stroke-width="1.05" fill="none"><rect x="1058.3" y="428.07" width="735.75" height="245.2"/><line x1="1156.4" y1="673.27" x2="1156.4" y2="665.87"/><line x1="1156.4" y1="428.07" x2="1156.4" y2="435.47"/><line x1="1254.5" y1="673.27" x2="1254.5" y2="665.87"/><line x1="1254.5" y1="428.07" x2="1254.5" y2="435.47"/><line x1="1352.6" y1="673.27" x2="1352.6" y2="665.87"/><line x1="1352.6" y1="428.07" x2="1352.6" y2="435.47"/><line x1="1450.7" y1="673.27" x2="1450.7" y2="665.87"/><line x1="1450.7" y1="428.07" x2="1450.7" y2="435.47"/><line x1="1548.8" y1="673.27" x2="1548.8" y2="665.87"/><line x1="1548.8" y1="428.07" x2="1548.8" y2="435.47"/><line x1="1646.9" y1="673.27" x2="1646.9" y2="665.87"/><line x1="1646.9" y1="428.07" x2="1646.9" y2="435.47"/><line x1="1745" y1="673.27" x2="1745" y2="665.87"/><line x1="1745" y1="428.07" x2="1745" y2="435.47"/><line x1="1058.3" y1="477.11" x2="1065.7" y2="477.11"/><line x1="1794.05" y1="477.11" x2="1786.65" y2="477.11"/><line x1="1058.3" y1="526.15" x2="1065.7" y2="526.15"/><line x1="1794.05" y1="526.15" x2="1786.65" y2="526.15"/><line x1="1058.3" y1="575.19" x2="1065.7" y2="575.19"/><line x1="1794.05" y1="575.19" x2="1786.65" y2="575.19"/><line x1="1058.3" y1="624.23" x2="1065.7" y2="624.23"/><line x1="1794.05" y1="624.23" x2="1786.65" y2="624.23"/></g>
<g font-family="Liberation Sans, sans-serif" font-size="22.4" fill="#262626"><text x="1156.4" y="699.67" text-anchor="middle">0</text><text x="1254.5" y="699.67" text-anchor="middle">0.2</text><text x="1352.6" y="699.67" text-anchor="middle">0.4</text><text x="1450.7" y="699.67" text-anchor="middle">0.6</text><text x="1548.8" y="699.67" text-anchor="middle">0.8</text><text x="1646.9" y="699.67" text-anchor="middle">1</text><text x="1745" y="699.67" text-anchor="middle">1.2</text><text x="1051.1" y="435.77" text-anchor="end">0.2</text><text x="1051.1" y="484.81" text-anchor="end">0.1</text><text x="1051.1" y="533.85" text-anchor="end">0</text><text x="1051.1" y="582.89" text-anchor="end">-0.1</text><text x="1051.1" y="631.93" text-anchor="end">-0.2</text><text x="1051.1" y="680.97" text-anchor="end">-0.3</text></g><g font-family="Liberation Sans, sans-serif" font-size="24.5" fill="#262626"><text x="1426.18" y="727.67" text-anchor="middle">x/c [-]</text><text transform="translate(1003.8 550.67) rotate(-90)" text-anchor="middle">y/c [-]</text></g>
<rect x="1803.95" y="428.07" width="15.6" height="245.2" fill="url(#cbB)" stroke="#666" stroke-width="1.2"/><rect x="1823.95" y="428.07" width="15.7" height="245.2" fill="url(#cbR)" stroke="#666" stroke-width="1.2"/><g stroke="#555" stroke-width="1.2"><line x1="1839.65" y1="624.23" x2="1837.15" y2="624.23"/><line x1="1839.65" y1="575.19" x2="1837.15" y2="575.19"/><line x1="1839.65" y1="526.15" x2="1837.15" y2="526.15"/><line x1="1839.65" y1="477.11" x2="1837.15" y2="477.11"/></g><g font-family="Liberation Sans, sans-serif" font-size="22.4" fill="#262626"><text x="1845.85" y="680.97">0</text><text x="1845.85" y="631.93">0.2</text><text x="1845.85" y="582.89">0.4</text><text x="1845.85" y="533.85">0.6</text><text x="1845.85" y="484.81">0.8</text><text x="1845.85" y="435.77">1</text></g>
<g font-family="Liberation Serif, serif" font-size="33.6" fill="#111"><text x="1230.4" y="797.3">(d)</text><text x="1277.6" y="797.3">Ma</text><text transform="translate(1322.3 802.5) scale(1.12 1)" font-size="30">∞</text><text x="1392.1" y="797.3">0.5,</text><text x="1452.9" y="797.3">AoA</text><text x="1577.3" y="797.3">10</text></g><g stroke="#111" stroke-width="1.5" fill="none"><line x1="1359.9" y1="785.4" x2="1382.3" y2="785.4"/><line x1="1359.9" y1="792.4" x2="1382.3" y2="792.4"/><line x1="1518.9" y1="785.4" x2="1541.3" y2="785.4"/><line x1="1518.9" y1="792.4" x2="1541.3" y2="792.4"/><line x1="1554.1" y1="788.9" x2="1574.9" y2="788.9"/><circle cx="1617.9" cy="776.9" r="4.5" stroke-width="1.4"/></g>
</svg>
</body></html>
